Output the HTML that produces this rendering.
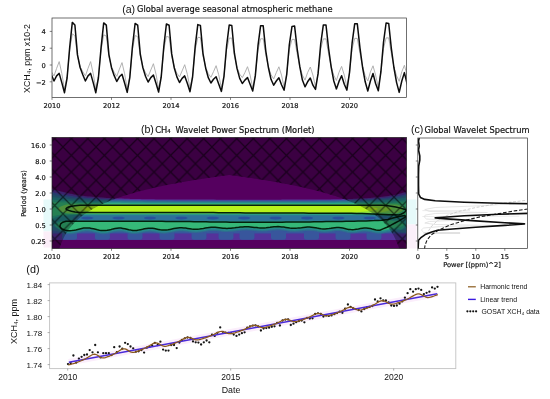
<!DOCTYPE html>
<html lang="en"><head><meta charset="utf-8"><title>Methane wavelet analysis</title>
<style>html,body{margin:0;padding:0;background:#fff;}svg{display:block;filter:blur(0.3px)}</style></head>
<body><svg width="550" height="399" viewBox="0 0 550 399">
<rect width="550" height="399" fill="#fff"/>
<clipPath id="ca"><rect x="52.0" y="18.0" width="354.5" height="79.6"/></clipPath>
<g clip-path="url(#ca)"><path d="M48.8,66.7 51.4,71.7 54.0,75.9 56.6,68.4 59.2,61.6 61.8,73.4 64.5,89.4 67.1,76.8 69.7,49.9 72.3,33.9 74.9,35.6 77.5,56.6 80.1,66.7 82.8,71.7 85.4,75.9 88.0,68.4 90.6,61.6 93.2,73.4 95.8,89.4 98.4,76.8 101.1,49.9 103.7,34.8 106.3,36.1 108.9,56.4 111.5,66.8 114.1,72.2 116.8,76.3 119.4,69.2 122.0,62.6 124.6,73.7 127.2,89.0 129.8,76.4 132.4,49.9 135.1,35.6 137.7,36.6 140.3,56.3 142.9,67.0 145.5,72.7 148.1,76.6 150.8,70.0 153.4,63.7 156.0,74.1 158.6,88.7 161.2,76.1 163.8,49.9 166.4,36.4 169.1,37.1 171.7,56.1 174.3,67.2 176.9,73.2 179.5,76.9 182.1,70.9 184.7,64.7 187.4,74.4 190.0,88.4 192.6,75.8 195.2,49.9 197.8,37.3 200.4,37.6 203.0,55.9 205.7,67.4 208.3,73.7 210.9,77.3 213.5,71.7 216.1,65.7 218.7,74.7 221.4,88.0 224.0,75.4 226.6,49.9 229.2,38.1 231.8,38.1 234.4,55.8 237.0,67.5 239.7,74.2 242.3,77.6 244.9,72.6 247.5,66.7 250.1,75.1 252.7,87.7 255.3,75.1 258.0,49.9 260.6,38.8 263.2,38.8 265.8,54.9 268.4,67.1 271.0,74.7 273.7,78.9 276.3,72.6 278.9,66.8 281.5,75.1 284.1,87.3 286.7,74.2 289.3,49.5 292.0,39.4 294.6,39.4 297.2,54.1 299.8,66.7 302.4,75.1 305.0,80.1 307.6,72.6 310.3,67.0 312.9,75.1 315.5,86.8 318.1,73.4 320.7,49.0 323.3,38.9 326.0,38.9 328.6,53.8 331.2,66.7 333.8,75.4 336.4,80.5 339.0,72.3 341.6,66.4 344.3,75.1 346.9,87.1 349.5,73.1 352.1,48.8 354.7,38.4 357.3,38.4 360.0,53.5 362.6,66.7 365.2,75.6 367.8,80.9 370.4,72.0 373.0,65.8 375.6,75.1 378.3,87.4 380.9,72.8 383.5,48.5 386.1,37.9 388.7,37.9 391.3,53.2 393.9,66.7 396.6,75.9 399.2,81.3 401.8,71.7 404.4,65.3 407.0,75.1 409.6,87.7" fill="none" stroke="#a8a8a8" stroke-width="0.9" stroke-linejoin="round"/>
<path d="M48.8,67.5 51.4,74.7 54.0,81.0 56.6,75.9 59.2,73.4 61.8,82.6 64.5,92.7 67.1,78.0 69.7,47.4 72.3,22.4 74.9,25.0 77.5,54.9 80.1,67.5 82.8,74.7 85.4,81.0 88.0,75.9 90.6,73.4 93.2,82.6 95.8,92.7 98.4,78.0 101.1,47.4 103.7,22.9 106.3,25.1 108.9,54.6 111.5,67.7 114.1,75.4 116.8,81.5 119.4,76.8 122.0,74.2 124.6,83.0 127.2,92.4 129.8,77.6 132.4,47.0 135.1,23.5 137.7,25.2 140.3,54.2 142.9,67.9 145.5,76.2 148.1,82.0 150.8,77.6 153.4,75.1 156.0,83.3 158.6,92.0 161.2,77.2 163.8,46.7 166.4,24.0 169.1,25.3 171.7,53.9 174.3,68.0 176.9,76.9 179.5,82.5 182.1,78.4 184.7,75.9 187.4,83.6 190.0,91.7 192.6,76.8 195.2,46.4 197.8,24.6 200.4,25.4 203.0,53.6 205.7,68.2 208.3,77.7 210.9,83.0 213.5,79.3 216.1,76.8 218.7,84.0 221.4,91.4 224.0,76.3 226.6,46.0 229.2,25.1 231.8,25.5 234.4,53.2 237.0,68.4 239.7,78.4 242.3,83.5 244.9,80.1 247.5,77.6 250.1,84.3 252.7,91.0 255.3,75.9 258.0,45.7 260.6,25.7 263.2,25.8 265.8,51.1 268.4,67.5 271.0,79.3 273.7,85.2 276.3,81.0 278.9,77.8 281.5,84.7 284.1,90.2 286.7,74.7 289.3,44.8 292.0,26.4 294.6,26.1 297.2,49.0 299.8,66.7 302.4,80.1 305.0,86.8 307.6,81.8 310.3,78.0 312.9,85.2 315.5,89.4 318.1,73.4 320.7,44.0 323.3,25.1 326.0,25.0 328.6,48.6 331.2,67.1 333.8,81.0 336.4,88.9 339.0,81.4 341.6,75.7 344.3,84.3 346.9,90.1 349.5,72.6 352.1,43.2 354.7,23.8 357.3,23.8 360.0,48.2 362.6,67.5 365.2,81.8 367.8,91.0 370.4,81.0 373.0,73.4 375.6,83.5 378.3,90.8 380.9,71.7 383.5,42.3 386.1,23.0 388.7,23.4 391.3,48.2 393.9,67.5 396.6,82.6 399.2,92.4 401.8,81.0 404.4,72.6 407.0,83.5 409.6,91.0" fill="none" stroke="#0c0c0c" stroke-width="1.5" stroke-linejoin="round"/></g>
<rect x="52.0" y="18.0" width="354.5" height="79.6" fill="none" stroke="#333" stroke-width="0.7"/>
<line x1="52.00" y1="97.6" x2="52.00" y2="99.89999999999999" stroke="#333" stroke-width="0.6"/>
<text x="52.00" y="108.3" text-anchor="middle" style="font-family:&quot;DejaVu Sans&quot;,&quot;Liberation Sans&quot;,sans-serif;font-size:6.7px" fill="#111" stroke="#111" stroke-width="0.18">2010</text>
<line x1="111.50" y1="97.6" x2="111.50" y2="99.89999999999999" stroke="#333" stroke-width="0.6"/>
<text x="111.50" y="108.3" text-anchor="middle" style="font-family:&quot;DejaVu Sans&quot;,&quot;Liberation Sans&quot;,sans-serif;font-size:6.7px" fill="#111" stroke="#111" stroke-width="0.18">2012</text>
<line x1="171.00" y1="97.6" x2="171.00" y2="99.89999999999999" stroke="#333" stroke-width="0.6"/>
<text x="171.00" y="108.3" text-anchor="middle" style="font-family:&quot;DejaVu Sans&quot;,&quot;Liberation Sans&quot;,sans-serif;font-size:6.7px" fill="#111" stroke="#111" stroke-width="0.18">2014</text>
<line x1="230.50" y1="97.6" x2="230.50" y2="99.89999999999999" stroke="#333" stroke-width="0.6"/>
<text x="230.50" y="108.3" text-anchor="middle" style="font-family:&quot;DejaVu Sans&quot;,&quot;Liberation Sans&quot;,sans-serif;font-size:6.7px" fill="#111" stroke="#111" stroke-width="0.18">2016</text>
<line x1="290.00" y1="97.6" x2="290.00" y2="99.89999999999999" stroke="#333" stroke-width="0.6"/>
<text x="290.00" y="108.3" text-anchor="middle" style="font-family:&quot;DejaVu Sans&quot;,&quot;Liberation Sans&quot;,sans-serif;font-size:6.7px" fill="#111" stroke="#111" stroke-width="0.18">2018</text>
<line x1="349.50" y1="97.6" x2="349.50" y2="99.89999999999999" stroke="#333" stroke-width="0.6"/>
<text x="349.50" y="108.3" text-anchor="middle" style="font-family:&quot;DejaVu Sans&quot;,&quot;Liberation Sans&quot;,sans-serif;font-size:6.7px" fill="#111" stroke="#111" stroke-width="0.18">2020</text>
<line x1="49.7" y1="31.40" x2="52.0" y2="31.40" stroke="#333" stroke-width="0.6"/>
<text x="45.8" y="34.20" text-anchor="end" style="font-family:&quot;DejaVu Sans&quot;,&quot;Liberation Sans&quot;,sans-serif;font-size:6.7px" fill="#111" stroke="#111" stroke-width="0.18">4</text>
<line x1="49.7" y1="48.20" x2="52.0" y2="48.20" stroke="#333" stroke-width="0.6"/>
<text x="45.8" y="51.00" text-anchor="end" style="font-family:&quot;DejaVu Sans&quot;,&quot;Liberation Sans&quot;,sans-serif;font-size:6.7px" fill="#111" stroke="#111" stroke-width="0.18">2</text>
<line x1="49.7" y1="65.00" x2="52.0" y2="65.00" stroke="#333" stroke-width="0.6"/>
<text x="45.8" y="67.80" text-anchor="end" style="font-family:&quot;DejaVu Sans&quot;,&quot;Liberation Sans&quot;,sans-serif;font-size:6.7px" fill="#111" stroke="#111" stroke-width="0.18">0</text>
<line x1="49.7" y1="81.80" x2="52.0" y2="81.80" stroke="#333" stroke-width="0.6"/>
<text x="45.8" y="84.60" text-anchor="end" style="font-family:&quot;DejaVu Sans&quot;,&quot;Liberation Sans&quot;,sans-serif;font-size:6.7px" fill="#111" stroke="#111" stroke-width="0.18">−2</text>
<text transform="translate(30.2,58.5) rotate(-90)" text-anchor="middle" style="font-family:&quot;Liberation Sans&quot;,sans-serif;font-size:8.85px" fill="#111">XCH₄, ppm x10-2</text>
<text x="122.2" y="13.2" style="font-family:&quot;Liberation Sans&quot;,sans-serif;font-size:10.6px" fill="#111">(a)</text>
<text x="137" y="12.2" style="font-family:&quot;DejaVu Sans&quot;,&quot;Liberation Sans&quot;,sans-serif;font-size:8.27px" fill="#111" stroke="#111" stroke-width="0.18">Global average seasonal atmospheric methane</text>
<rect x="43.5" y="199.5" width="9" height="32" fill="#e6fafa"/><rect x="43.5" y="231.5" width="9" height="16" fill="#fbeef8"/><rect x="406" y="199.5" width="10.5" height="25" fill="#e6fafa"/><rect x="406" y="224.5" width="10.5" height="24" fill="#fbf0fa"/>
<clipPath id="cb"><rect x="52.0" y="137.5" width="354.5" height="111.0"/></clipPath>
<filter id="bl" x="-5%" y="-5%" width="110%" height="110%"><feGaussianBlur stdDeviation="0.55"/></filter>
<g clip-path="url(#cb)"><g filter="url(#bl)">
<rect x="49.0" y="134.5" width="360.5" height="117.0" fill="#55065f"/>
<path d="M50.0,187.9 52.0,188.7 54.0,189.4 56.0,190.1 58.0,190.7 60.0,191.3 62.0,191.8 64.0,192.3 66.0,192.8 68.0,193.3 70.0,193.7 72.0,194.1 74.0,194.4 76.0,194.8 78.0,195.1 80.0,195.4 82.0,195.7 84.0,195.9 86.1,196.2 88.1,196.4 90.1,196.6 92.1,196.8 94.1,197.0 96.1,197.2 98.1,197.3 100.1,197.5 102.1,197.6 104.1,197.8 106.1,197.9 108.1,198.0 110.1,198.1 112.1,198.2 114.1,198.3 116.1,198.4 118.1,198.5 120.1,198.6 122.1,198.6 124.1,198.7 126.1,198.8 128.1,198.8 130.1,198.9 132.1,198.9 134.1,199.0 136.1,199.0 138.1,199.1 140.1,199.1 142.1,199.2 144.1,199.2 146.1,199.2 148.1,199.3 150.1,199.3 152.1,199.3 154.1,199.3 156.1,199.4 158.2,199.4 160.2,199.4 162.2,199.4 164.2,199.4 166.2,199.5 168.2,199.5 170.2,199.5 172.2,199.5 174.2,199.5 176.2,199.5 178.2,199.5 180.2,199.5 182.2,199.6 184.2,199.6 186.2,199.6 188.2,199.6 190.2,199.6 192.2,199.6 194.2,199.6 196.2,199.6 198.2,199.6 200.2,199.6 202.2,199.6 204.2,199.6 206.2,199.6 208.2,199.6 210.2,199.6 212.2,199.6 214.2,199.6 216.2,199.7 218.2,199.7 220.2,199.7 222.2,199.7 224.2,199.7 226.2,199.7 228.2,199.7 230.3,199.7 232.3,199.7 234.3,199.7 236.3,199.7 238.3,199.7 240.3,199.7 242.3,199.7 244.3,199.7 246.3,199.7 248.3,199.7 250.3,199.7 252.3,199.7 254.3,199.7 256.3,199.7 258.3,199.7 260.3,199.7 262.3,199.7 264.3,199.7 266.3,199.7 268.3,199.7 270.3,199.7 272.3,199.7 274.3,199.7 276.3,199.7 278.3,199.7 280.3,199.7 282.3,199.6 284.3,199.6 286.3,199.6 288.3,199.6 290.3,199.6 292.3,199.6 294.3,199.6 296.3,199.6 298.3,199.6 300.3,199.6 302.4,199.6 304.4,199.6 306.4,199.6 308.4,199.6 310.4,199.6 312.4,199.5 314.4,199.5 316.4,199.5 318.4,199.5 320.4,199.5 322.4,199.5 324.4,199.4 326.4,199.4 328.4,199.4 330.4,199.4 332.4,199.3 334.4,199.3 336.4,199.3 338.4,199.2 340.4,199.2 342.4,199.1 344.4,199.1 346.4,199.0 348.4,199.0 350.4,198.9 352.4,198.9 354.4,198.8 356.4,198.7 358.4,198.6 360.4,198.5 362.4,198.4 364.4,198.3 366.4,198.2 368.4,198.1 370.4,197.9 372.4,197.8 374.5,197.6 376.5,197.4 378.5,197.2 380.5,197.0 382.5,196.8 384.5,196.5 386.5,196.2 388.5,195.9 390.5,195.6 392.5,195.2 394.5,194.9 396.5,194.4 398.5,194.0 400.5,193.5 402.5,192.9 404.5,192.3 406.5,191.7 408.5,191.0 408.5,240.0 406.5,240.0 404.5,240.0 402.5,240.0 400.5,240.0 398.5,240.0 396.5,240.0 394.5,240.0 392.5,240.0 390.5,240.0 388.5,240.0 386.5,240.0 384.5,240.0 382.5,240.0 380.5,240.0 378.5,240.0 376.5,240.0 374.5,240.0 372.4,240.0 370.4,240.0 368.4,240.0 366.4,240.0 364.4,240.0 362.4,240.0 360.4,240.0 358.4,240.0 356.4,240.0 354.4,240.0 352.4,240.0 350.4,240.0 348.4,240.0 346.4,240.0 344.4,240.0 342.4,240.0 340.4,240.0 338.4,240.0 336.4,240.0 334.4,240.0 332.4,240.0 330.4,240.0 328.4,240.0 326.4,240.0 324.4,240.0 322.4,240.0 320.4,240.0 318.4,240.0 316.4,240.0 314.4,240.0 312.4,240.0 310.4,240.0 308.4,240.0 306.4,240.0 304.4,240.0 302.4,240.0 300.3,240.0 298.3,240.0 296.3,240.0 294.3,240.0 292.3,240.0 290.3,240.0 288.3,240.0 286.3,240.0 284.3,240.0 282.3,240.0 280.3,240.0 278.3,240.0 276.3,240.0 274.3,240.0 272.3,240.0 270.3,240.0 268.3,240.0 266.3,240.0 264.3,240.0 262.3,240.0 260.3,240.0 258.3,240.0 256.3,240.0 254.3,240.0 252.3,240.0 250.3,240.0 248.3,240.0 246.3,240.0 244.3,240.0 242.3,240.0 240.3,240.0 238.3,240.0 236.3,240.0 234.3,240.0 232.3,240.0 230.3,240.0 228.2,240.0 226.2,240.0 224.2,240.0 222.2,240.0 220.2,240.0 218.2,240.0 216.2,240.0 214.2,240.0 212.2,240.0 210.2,240.0 208.2,240.0 206.2,240.0 204.2,240.0 202.2,240.0 200.2,240.0 198.2,240.0 196.2,240.0 194.2,240.0 192.2,240.0 190.2,240.0 188.2,240.0 186.2,240.0 184.2,240.0 182.2,240.0 180.2,240.0 178.2,240.0 176.2,240.0 174.2,240.0 172.2,240.0 170.2,240.0 168.2,240.0 166.2,240.0 164.2,240.0 162.2,240.0 160.2,240.0 158.2,240.0 156.1,240.0 154.1,240.0 152.1,240.0 150.1,240.0 148.1,240.0 146.1,240.0 144.1,240.0 142.1,240.0 140.1,240.0 138.1,240.0 136.1,240.0 134.1,240.0 132.1,240.0 130.1,240.0 128.1,240.0 126.1,240.0 124.1,240.0 122.1,240.0 120.1,240.0 118.1,240.0 116.1,240.0 114.1,240.0 112.1,240.0 110.1,240.0 108.1,240.0 106.1,240.0 104.1,240.0 102.1,240.0 100.1,240.0 98.1,240.0 96.1,240.0 94.1,240.0 92.1,240.0 90.1,240.0 88.1,240.0 86.1,240.0 84.0,240.0 82.0,240.0 80.0,240.0 78.0,240.0 76.0,240.0 74.0,240.0 72.0,240.0 70.0,240.0 68.0,240.0 66.0,240.0 64.0,240.0 62.0,240.0 60.0,240.0 58.0,240.0 56.0,240.0 54.0,240.0 52.0,240.0 50.0,240.0Z" fill="#55309a"/>
<path d="M50.0,191.3 52.0,191.9 54.0,192.5 56.0,193.0 58.0,193.5 60.0,193.9 62.0,194.3 64.0,194.7 66.0,195.1 68.0,195.5 70.0,195.8 72.0,196.1 74.0,196.4 76.0,196.6 78.0,196.9 80.0,197.1 82.0,197.3 84.0,197.5 86.1,197.7 88.1,197.9 90.1,198.1 92.1,198.2 94.1,198.4 96.1,198.5 98.1,198.6 100.1,198.8 102.1,198.9 104.1,199.0 106.1,199.1 108.1,199.2 110.1,199.3 112.1,199.3 114.1,199.4 116.1,199.5 118.1,199.6 120.1,199.6 122.1,199.7 124.1,199.7 126.1,199.8 128.1,199.8 130.1,199.9 132.1,199.9 134.1,199.9 136.1,200.0 138.1,200.0 140.1,200.0 142.1,200.1 144.1,200.1 146.1,200.1 148.1,200.2 150.1,200.2 152.1,200.2 154.1,200.2 156.1,200.2 158.2,200.2 160.2,200.3 162.2,200.3 164.2,200.3 166.2,200.3 168.2,200.3 170.2,200.3 172.2,200.3 174.2,200.4 176.2,200.4 178.2,200.4 180.2,200.4 182.2,200.4 184.2,200.4 186.2,200.4 188.2,200.4 190.2,200.4 192.2,200.4 194.2,200.4 196.2,200.4 198.2,200.4 200.2,200.4 202.2,200.4 204.2,200.4 206.2,200.4 208.2,200.5 210.2,200.5 212.2,200.5 214.2,200.5 216.2,200.5 218.2,200.5 220.2,200.5 222.2,200.5 224.2,200.5 226.2,200.5 228.2,200.5 230.3,200.5 232.3,200.5 234.3,200.5 236.3,200.5 238.3,200.5 240.3,200.5 242.3,200.5 244.3,200.5 246.3,200.5 248.3,200.5 250.3,200.5 252.3,200.5 254.3,200.5 256.3,200.5 258.3,200.5 260.3,200.5 262.3,200.5 264.3,200.5 266.3,200.5 268.3,200.5 270.3,200.5 272.3,200.5 274.3,200.5 276.3,200.5 278.3,200.5 280.3,200.5 282.3,200.5 284.3,200.5 286.3,200.5 288.3,200.4 290.3,200.4 292.3,200.4 294.3,200.4 296.3,200.4 298.3,200.4 300.3,200.4 302.4,200.4 304.4,200.4 306.4,200.4 308.4,200.4 310.4,200.4 312.4,200.4 314.4,200.4 316.4,200.3 318.4,200.3 320.4,200.3 322.4,200.3 324.4,200.3 326.4,200.3 328.4,200.2 330.4,200.2 332.4,200.2 334.4,200.2 336.4,200.1 338.4,200.1 340.4,200.1 342.4,200.0 344.4,200.0 346.4,200.0 348.4,199.9 350.4,199.9 352.4,199.8 354.4,199.7 356.4,199.7 358.4,199.6 360.4,199.5 362.4,199.4 364.4,199.4 366.4,199.3 368.4,199.1 370.4,199.0 372.4,198.9 374.5,198.8 376.5,198.6 378.5,198.4 380.5,198.3 382.5,198.1 384.5,197.9 386.5,197.6 388.5,197.4 390.5,197.1 392.5,196.8 394.5,196.5 396.5,196.2 398.5,195.8 400.5,195.4 402.5,194.9 404.5,194.4 406.5,193.9 408.5,193.3 408.5,233.4 406.5,233.4 404.5,233.4 402.5,233.4 400.5,233.4 398.5,233.4 396.5,233.4 394.5,233.4 392.5,233.4 390.5,233.4 388.5,233.4 386.5,233.4 384.5,233.4 382.5,233.4 380.5,233.4 378.5,233.4 376.5,233.4 374.5,233.4 372.4,233.4 370.4,233.4 368.4,233.4 366.4,233.4 364.4,233.4 362.4,233.4 360.4,233.4 358.4,233.4 356.4,233.4 354.4,233.4 352.4,233.4 350.4,233.4 348.4,233.4 346.4,233.4 344.4,233.4 342.4,233.4 340.4,233.4 338.4,233.4 336.4,233.4 334.4,233.4 332.4,233.4 330.4,233.4 328.4,233.4 326.4,233.4 324.4,233.4 322.4,233.4 320.4,233.4 318.4,233.4 316.4,233.4 314.4,233.4 312.4,233.4 310.4,233.4 308.4,233.4 306.4,233.4 304.4,233.4 302.4,233.4 300.3,233.4 298.3,233.4 296.3,233.4 294.3,233.4 292.3,233.4 290.3,233.4 288.3,233.4 286.3,233.4 284.3,233.4 282.3,233.4 280.3,233.4 278.3,233.4 276.3,233.4 274.3,233.4 272.3,233.4 270.3,233.4 268.3,233.4 266.3,233.4 264.3,233.4 262.3,233.4 260.3,233.4 258.3,233.4 256.3,233.4 254.3,233.4 252.3,233.4 250.3,233.4 248.3,233.4 246.3,233.4 244.3,233.4 242.3,233.4 240.3,233.4 238.3,233.4 236.3,233.4 234.3,233.4 232.3,233.4 230.3,233.4 228.2,233.4 226.2,233.4 224.2,233.4 222.2,233.4 220.2,233.4 218.2,233.4 216.2,233.4 214.2,233.4 212.2,233.4 210.2,233.4 208.2,233.4 206.2,233.4 204.2,233.4 202.2,233.4 200.2,233.4 198.2,233.4 196.2,233.4 194.2,233.4 192.2,233.4 190.2,233.4 188.2,233.4 186.2,233.4 184.2,233.4 182.2,233.4 180.2,233.4 178.2,233.4 176.2,233.4 174.2,233.4 172.2,233.4 170.2,233.4 168.2,233.4 166.2,233.4 164.2,233.4 162.2,233.4 160.2,233.4 158.2,233.4 156.1,233.4 154.1,233.4 152.1,233.4 150.1,233.4 148.1,233.4 146.1,233.4 144.1,233.4 142.1,233.4 140.1,233.4 138.1,233.4 136.1,233.4 134.1,233.4 132.1,233.4 130.1,233.4 128.1,233.4 126.1,233.4 124.1,233.4 122.1,233.4 120.1,233.4 118.1,233.4 116.1,233.4 114.1,233.4 112.1,233.4 110.1,233.4 108.1,233.4 106.1,233.4 104.1,233.4 102.1,233.4 100.1,233.4 98.1,233.4 96.1,233.4 94.1,233.4 92.1,233.4 90.1,233.4 88.1,233.4 86.1,233.4 84.0,233.4 82.0,233.4 80.0,233.4 78.0,233.4 76.0,233.4 74.0,233.4 72.0,233.4 70.0,233.4 68.0,233.4 66.0,233.4 64.0,233.4 62.0,233.4 60.0,233.4 58.0,233.4 56.0,233.4 54.0,233.4 52.0,233.4 50.0,233.4Z" fill="#37579c"/>
<rect x="62.1" y="231" width="15" height="8.7" rx="2.5" fill="#37579c"/>
<rect x="94.9" y="231" width="15" height="8.7" rx="2.5" fill="#37579c"/>
<rect x="127.5" y="231" width="15" height="8.7" rx="2.5" fill="#37579c"/>
<rect x="159.5" y="231" width="15" height="8.7" rx="2.5" fill="#37579c"/>
<rect x="191.5" y="231" width="15" height="8.7" rx="2.5" fill="#37579c"/>
<rect x="218.5" y="231" width="15" height="8.7" rx="2.5" fill="#37579c"/>
<rect x="239.5" y="231" width="15" height="8.7" rx="2.5" fill="#37579c"/>
<rect x="271.0" y="231" width="15" height="8.7" rx="2.5" fill="#37579c"/>
<rect x="304.0" y="231" width="15" height="8.7" rx="2.5" fill="#37579c"/>
<rect x="335.5" y="231" width="15" height="8.7" rx="2.5" fill="#37579c"/>
<rect x="366.5" y="231" width="15" height="8.7" rx="2.5" fill="#37579c"/>
<path d="M50.0,193.8 52.0,194.3 54.0,194.8 56.0,195.2 58.0,195.6 60.0,195.9 62.0,196.3 64.0,196.6 66.0,196.9 68.0,197.2 70.0,197.5 72.0,197.7 74.0,197.9 76.0,198.2 78.0,198.4 80.0,198.6 82.0,198.7 84.0,198.9 86.1,199.1 88.1,199.2 90.1,199.3 92.1,199.5 94.1,199.6 96.1,199.7 98.1,199.8 100.1,199.9 102.1,200.0 104.1,200.1 106.1,200.1 108.1,200.2 110.1,200.3 112.1,200.4 114.1,200.4 116.1,200.5 118.1,200.5 120.1,200.6 122.1,200.6 124.1,200.7 126.1,200.7 128.1,200.7 130.1,200.8 132.1,200.8 134.1,200.8 136.1,200.9 138.1,200.9 140.1,200.9 142.1,201.0 144.1,201.0 146.1,201.0 148.1,201.0 150.1,201.0 152.1,201.1 154.1,201.1 156.1,201.1 158.2,201.1 160.2,201.1 162.2,201.1 164.2,201.1 166.2,201.1 168.2,201.2 170.2,201.2 172.2,201.2 174.2,201.2 176.2,201.2 178.2,201.2 180.2,201.2 182.2,201.2 184.2,201.2 186.2,201.2 188.2,201.2 190.2,201.2 192.2,201.2 194.2,201.2 196.2,201.2 198.2,201.2 200.2,201.2 202.2,201.3 204.2,201.3 206.2,201.3 208.2,201.3 210.2,201.3 212.2,201.3 214.2,201.3 216.2,201.3 218.2,201.3 220.2,201.3 222.2,201.3 224.2,201.3 226.2,201.3 228.2,201.3 230.3,201.3 232.3,201.3 234.3,201.3 236.3,201.3 238.3,201.3 240.3,201.3 242.3,201.3 244.3,201.3 246.3,201.3 248.3,201.3 250.3,201.3 252.3,201.3 254.3,201.3 256.3,201.3 258.3,201.3 260.3,201.3 262.3,201.3 264.3,201.3 266.3,201.3 268.3,201.3 270.3,201.3 272.3,201.3 274.3,201.3 276.3,201.3 278.3,201.3 280.3,201.3 282.3,201.3 284.3,201.3 286.3,201.3 288.3,201.3 290.3,201.3 292.3,201.2 294.3,201.2 296.3,201.2 298.3,201.2 300.3,201.2 302.4,201.2 304.4,201.2 306.4,201.2 308.4,201.2 310.4,201.2 312.4,201.2 314.4,201.2 316.4,201.2 318.4,201.2 320.4,201.1 322.4,201.1 324.4,201.1 326.4,201.1 328.4,201.1 330.4,201.1 332.4,201.0 334.4,201.0 336.4,201.0 338.4,201.0 340.4,200.9 342.4,200.9 344.4,200.9 346.4,200.8 348.4,200.8 350.4,200.8 352.4,200.7 354.4,200.7 356.4,200.6 358.4,200.5 360.4,200.5 362.4,200.4 364.4,200.3 366.4,200.2 368.4,200.2 370.4,200.1 372.4,199.9 374.5,199.8 376.5,199.7 378.5,199.6 380.5,199.4 382.5,199.2 384.5,199.1 386.5,198.9 388.5,198.7 390.5,198.4 392.5,198.2 394.5,197.9 396.5,197.6 398.5,197.3 400.5,196.9 402.5,196.6 404.5,196.1 406.5,195.7 408.5,195.2 408.5,232.5 406.5,232.7 404.5,232.6 402.5,232.4 400.5,232.1 398.5,231.9 396.5,231.7 394.5,231.7 392.5,231.8 390.5,232.1 388.5,232.4 386.5,232.8 384.5,233.2 382.5,233.5 380.5,233.7 378.5,233.8 376.5,233.6 374.5,233.2 372.4,232.7 370.4,232.3 368.4,231.9 366.4,231.7 364.4,231.6 362.4,231.8 360.4,232.1 358.4,232.5 356.4,232.9 354.4,233.2 352.4,233.3 350.4,233.2 348.4,232.9 346.4,232.5 344.4,232.0 342.4,231.6 340.4,231.3 338.4,231.1 336.4,231.1 334.4,231.3 332.4,231.6 330.4,232.0 328.4,232.3 326.4,232.5 324.4,232.6 322.4,232.5 320.4,232.2 318.4,231.9 316.4,231.5 314.4,231.2 312.4,230.9 310.4,230.7 308.4,230.7 306.4,230.7 304.4,230.9 302.4,231.2 300.3,231.4 298.3,231.7 296.3,231.8 294.3,231.9 292.3,231.8 290.3,231.7 288.3,231.4 286.3,231.1 284.3,230.8 282.3,230.5 280.3,230.3 278.3,230.2 276.3,230.3 274.3,230.4 272.3,230.6 270.3,230.8 268.3,231.1 266.3,231.4 264.3,231.5 262.3,231.6 260.3,231.5 258.3,231.4 256.3,231.2 254.3,231.0 252.3,230.8 250.3,230.6 248.3,230.4 246.3,230.3 244.3,230.4 242.3,230.5 240.3,230.7 238.3,230.9 236.3,231.2 234.3,231.5 232.3,231.7 230.3,231.8 228.2,232.0 226.2,232.0 224.2,231.9 222.2,231.7 220.2,231.4 218.2,231.2 216.2,231.0 214.2,230.9 212.2,230.9 210.2,231.0 208.2,231.2 206.2,231.6 204.2,231.9 202.2,232.3 200.2,232.6 198.2,232.8 196.2,232.9 194.2,232.8 192.2,232.7 190.2,232.4 188.2,232.1 186.2,231.8 184.2,231.6 182.2,231.4 180.2,231.4 178.2,231.6 176.2,231.8 174.2,232.2 172.2,232.6 170.2,233.0 168.2,233.3 166.2,233.6 164.2,233.7 162.2,233.6 160.2,233.4 158.2,233.0 156.1,232.6 154.1,232.2 152.1,231.9 150.1,231.8 148.1,231.9 146.1,232.1 144.1,232.5 142.1,233.0 140.1,233.4 138.1,233.8 136.1,234.0 134.1,234.1 132.1,233.9 130.1,233.6 128.1,233.1 126.1,232.6 124.1,232.2 122.1,231.8 120.1,231.7 118.1,231.7 116.1,231.9 114.1,232.3 112.1,232.8 110.1,233.3 108.1,233.8 106.1,234.1 104.1,234.2 102.1,234.2 100.1,233.9 98.1,233.5 96.1,233.1 94.1,232.6 92.1,232.1 90.1,231.7 88.1,231.5 86.1,231.5 84.0,231.7 82.0,232.0 80.0,232.4 78.0,232.9 76.0,233.4 74.0,233.9 72.0,234.2 70.0,234.3 68.0,234.2 66.0,233.9 64.0,233.4 62.0,232.8 60.0,232.2 58.0,231.6 56.0,231.1 54.0,230.8 52.0,230.6 50.0,230.6Z" fill="#2f6c90"/>
<path d="M50.0,196.5 52.0,196.9 54.0,197.2 56.0,197.6 58.0,197.8 60.0,198.1 62.0,198.4 64.0,198.6 66.0,198.8 68.0,199.1 70.0,199.2 72.0,199.4 74.0,199.6 76.0,199.8 78.0,199.9 80.0,200.1 82.0,200.2 84.0,200.3 86.1,200.4 88.1,200.5 90.1,200.6 92.1,200.7 94.1,200.8 96.1,200.9 98.1,201.0 100.1,201.1 102.1,201.1 104.1,201.2 106.1,201.2 108.1,201.3 110.1,201.3 112.1,201.4 114.1,201.4 116.1,201.5 118.1,201.5 120.1,201.6 122.1,201.6 124.1,201.6 126.1,201.7 128.1,201.7 130.1,201.7 132.1,201.7 134.1,201.8 136.1,201.8 138.1,201.8 140.1,201.8 142.1,201.8 144.1,201.9 146.1,201.9 148.1,201.9 150.1,201.9 152.1,201.9 154.1,201.9 156.1,201.9 158.2,201.9 160.2,202.0 162.2,202.0 164.2,202.0 166.2,202.0 168.2,202.0 170.2,202.0 172.2,202.0 174.2,202.0 176.2,202.0 178.2,202.0 180.2,202.0 182.2,202.0 184.2,202.0 186.2,202.0 188.2,202.0 190.2,202.0 192.2,202.1 194.2,202.1 196.2,202.1 198.2,202.1 200.2,202.1 202.2,202.1 204.2,202.1 206.2,202.1 208.2,202.1 210.2,202.1 212.2,202.1 214.2,202.1 216.2,202.1 218.2,202.1 220.2,202.1 222.2,202.1 224.2,202.1 226.2,202.1 228.2,202.1 230.3,202.1 232.3,202.1 234.3,202.1 236.3,202.1 238.3,202.1 240.3,202.1 242.3,202.1 244.3,202.1 246.3,202.1 248.3,202.1 250.3,202.1 252.3,202.1 254.3,202.1 256.3,202.1 258.3,202.1 260.3,202.1 262.3,202.1 264.3,202.1 266.3,202.1 268.3,202.1 270.3,202.1 272.3,202.1 274.3,202.1 276.3,202.1 278.3,202.1 280.3,202.1 282.3,202.1 284.3,202.1 286.3,202.1 288.3,202.1 290.3,202.1 292.3,202.1 294.3,202.1 296.3,202.1 298.3,202.0 300.3,202.0 302.4,202.0 304.4,202.0 306.4,202.0 308.4,202.0 310.4,202.0 312.4,202.0 314.4,202.0 316.4,202.0 318.4,202.0 320.4,202.0 322.4,202.0 324.4,201.9 326.4,201.9 328.4,201.9 330.4,201.9 332.4,201.9 334.4,201.9 336.4,201.9 338.4,201.8 340.4,201.8 342.4,201.8 344.4,201.8 346.4,201.7 348.4,201.7 350.4,201.7 352.4,201.6 354.4,201.6 356.4,201.5 358.4,201.5 360.4,201.4 362.4,201.4 364.4,201.3 366.4,201.2 368.4,201.2 370.4,201.1 372.4,201.0 374.5,200.9 376.5,200.8 378.5,200.7 380.5,200.5 382.5,200.4 384.5,200.3 386.5,200.1 388.5,199.9 390.5,199.7 392.5,199.5 394.5,199.3 396.5,199.1 398.5,198.8 400.5,198.5 402.5,198.2 404.5,197.9 406.5,197.5 408.5,197.1 408.5,221.9 406.5,226.4 404.5,228.7 402.5,229.7 400.5,230.2 398.5,230.3 396.5,230.3 394.5,230.4 392.5,230.6 390.5,230.9 388.5,231.2 386.5,231.6 384.5,232.0 382.5,232.4 380.5,232.6 378.5,232.6 376.5,232.4 374.5,232.0 372.4,231.6 370.4,231.1 368.4,230.7 366.4,230.5 364.4,230.4 362.4,230.6 360.4,230.9 358.4,231.3 356.4,231.7 354.4,232.0 352.4,232.1 350.4,232.0 348.4,231.7 346.4,231.3 344.4,230.8 342.4,230.4 340.4,230.1 338.4,229.9 336.4,229.9 334.4,230.1 332.4,230.4 330.4,230.8 328.4,231.1 326.4,231.3 324.4,231.4 322.4,231.3 320.4,231.0 318.4,230.7 316.4,230.3 314.4,230.0 312.4,229.7 310.4,229.5 308.4,229.5 306.4,229.5 304.4,229.7 302.4,230.0 300.3,230.2 298.3,230.5 296.3,230.6 294.3,230.7 292.3,230.6 290.3,230.5 288.3,230.2 286.3,229.9 284.3,229.6 282.3,229.3 280.3,229.1 278.3,229.0 276.3,229.1 274.3,229.2 272.3,229.4 270.3,229.6 268.3,229.9 266.3,230.2 264.3,230.3 262.3,230.4 260.3,230.3 258.3,230.2 256.3,230.0 254.3,229.8 252.3,229.6 250.3,229.4 248.3,229.2 246.3,229.1 244.3,229.2 242.3,229.3 240.3,229.5 238.3,229.7 236.3,230.0 234.3,230.3 232.3,230.5 230.3,230.6 228.2,230.8 226.2,230.8 224.2,230.7 222.2,230.5 220.2,230.2 218.2,230.0 216.2,229.8 214.2,229.7 212.2,229.7 210.2,229.8 208.2,230.0 206.2,230.4 204.2,230.7 202.2,231.1 200.2,231.4 198.2,231.6 196.2,231.7 194.2,231.6 192.2,231.5 190.2,231.2 188.2,230.9 186.2,230.6 184.2,230.4 182.2,230.2 180.2,230.2 178.2,230.4 176.2,230.6 174.2,231.0 172.2,231.4 170.2,231.8 168.2,232.1 166.2,232.4 164.2,232.5 162.2,232.4 160.2,232.2 158.2,231.8 156.1,231.4 154.1,231.0 152.1,230.7 150.1,230.6 148.1,230.7 146.1,230.9 144.1,231.3 142.1,231.8 140.1,232.2 138.1,232.6 136.1,232.8 134.1,232.9 132.1,232.7 130.1,232.4 128.1,231.9 126.1,231.4 124.1,231.0 122.1,230.6 120.1,230.5 118.1,230.5 116.1,230.7 114.1,231.1 112.1,231.6 110.1,232.1 108.1,232.6 106.1,232.9 104.1,233.0 102.1,233.0 100.1,232.7 98.1,232.3 96.1,231.9 94.1,231.4 92.1,230.9 90.1,230.5 88.1,230.3 86.1,230.3 84.0,230.5 82.0,230.8 80.0,231.2 78.0,231.7 76.0,232.2 74.0,232.6 72.0,232.9 70.0,233.0 68.0,232.9 66.0,232.5 64.0,231.9 62.0,231.1 60.0,230.2 58.0,229.0 56.0,227.8 54.0,226.2 52.0,224.0 50.0,220.8Z" fill="#28868c"/>
<path d="M50.0,199.4 52.0,199.6 54.0,199.8 56.0,200.0 58.0,200.2 60.0,200.4 62.0,200.6 64.0,200.7 66.0,200.9 68.0,201.0 70.0,201.1 72.0,201.3 74.0,201.4 76.0,201.5 78.0,201.6 80.0,201.7 82.0,201.8 84.0,201.8 86.1,201.9 88.1,202.0 90.1,202.0 92.1,202.1 94.1,202.2 96.1,202.2 98.1,202.3 100.1,202.3 102.1,202.4 104.1,202.4 106.1,202.4 108.1,202.5 110.1,202.5 112.1,202.5 114.1,202.6 116.1,202.6 118.1,202.6 120.1,202.6 122.1,202.7 124.1,202.7 126.1,202.7 128.1,202.7 130.1,202.7 132.1,202.8 134.1,202.8 136.1,202.8 138.1,202.8 140.1,202.8 142.1,202.8 144.1,202.8 146.1,202.9 148.1,202.9 150.1,202.9 152.1,202.9 154.1,202.9 156.1,202.9 158.2,202.9 160.2,202.9 162.2,202.9 164.2,202.9 166.2,202.9 168.2,202.9 170.2,202.9 172.2,202.9 174.2,202.9 176.2,202.9 178.2,202.9 180.2,203.0 182.2,203.0 184.2,203.0 186.2,203.0 188.2,203.0 190.2,203.0 192.2,203.0 194.2,203.0 196.2,203.0 198.2,203.0 200.2,203.0 202.2,203.0 204.2,203.0 206.2,203.0 208.2,203.0 210.2,203.0 212.2,203.0 214.2,203.0 216.2,203.0 218.2,203.0 220.2,203.0 222.2,203.0 224.2,203.0 226.2,203.0 228.2,203.0 230.3,203.0 232.3,203.0 234.3,203.0 236.3,203.0 238.3,203.0 240.3,203.0 242.3,203.0 244.3,203.0 246.3,203.0 248.3,203.0 250.3,203.0 252.3,203.0 254.3,203.0 256.3,203.0 258.3,203.0 260.3,203.0 262.3,203.0 264.3,203.0 266.3,203.0 268.3,203.0 270.3,203.0 272.3,203.0 274.3,203.0 276.3,203.0 278.3,203.0 280.3,203.0 282.3,203.0 284.3,203.0 286.3,203.0 288.3,203.0 290.3,203.0 292.3,203.0 294.3,203.0 296.3,203.0 298.3,203.0 300.3,203.0 302.4,203.0 304.4,203.0 306.4,203.0 308.4,203.0 310.4,202.9 312.4,202.9 314.4,202.9 316.4,202.9 318.4,202.9 320.4,202.9 322.4,202.9 324.4,202.9 326.4,202.9 328.4,202.9 330.4,202.9 332.4,202.9 334.4,202.9 336.4,202.8 338.4,202.8 340.4,202.8 342.4,202.8 344.4,202.8 346.4,202.8 348.4,202.8 350.4,202.7 352.4,202.7 354.4,202.7 356.4,202.7 358.4,202.6 360.4,202.6 362.4,202.6 364.4,202.5 366.4,202.5 368.4,202.4 370.4,202.4 372.4,202.3 374.5,202.3 376.5,202.2 378.5,202.1 380.5,202.1 382.5,202.0 384.5,201.9 386.5,201.8 388.5,201.7 390.5,201.6 392.5,201.4 394.5,201.3 396.5,201.2 398.5,201.0 400.5,200.8 402.5,200.6 404.5,200.4 406.5,200.2 408.5,200.0 408.5,217.9 406.5,217.2 404.5,216.6 402.5,216.2 400.5,215.9 398.5,215.6 396.5,215.4 394.5,215.3 392.5,215.1 390.5,215.0 388.5,215.0 386.5,214.9 384.5,214.9 382.5,214.8 380.5,214.8 378.5,214.8 376.5,214.8 374.5,214.7 372.4,214.7 370.4,214.7 368.4,214.7 366.4,214.7 364.4,214.7 362.4,214.7 360.4,214.7 358.4,214.7 356.4,214.7 354.4,214.7 352.4,214.7 350.4,214.7 348.4,214.7 346.4,214.7 344.4,214.7 342.4,214.7 340.4,214.7 338.4,214.7 336.4,214.7 334.4,214.7 332.4,214.7 330.4,214.7 328.4,214.7 326.4,214.7 324.4,214.7 322.4,214.7 320.4,214.7 318.4,214.7 316.4,214.7 314.4,214.7 312.4,214.7 310.4,214.7 308.4,214.7 306.4,214.7 304.4,214.7 302.4,214.7 300.3,214.7 298.3,214.7 296.3,214.7 294.3,214.7 292.3,214.7 290.3,214.7 288.3,214.7 286.3,214.7 284.3,214.7 282.3,214.7 280.3,214.7 278.3,214.7 276.3,214.7 274.3,214.7 272.3,214.7 270.3,214.7 268.3,214.7 266.3,214.7 264.3,214.7 262.3,214.7 260.3,214.7 258.3,214.7 256.3,214.7 254.3,214.7 252.3,214.7 250.3,214.7 248.3,214.7 246.3,214.7 244.3,214.7 242.3,214.7 240.3,214.7 238.3,214.7 236.3,214.7 234.3,214.7 232.3,214.7 230.3,214.7 228.2,214.7 226.2,214.7 224.2,214.7 222.2,214.7 220.2,214.7 218.2,214.7 216.2,214.7 214.2,214.7 212.2,214.7 210.2,214.7 208.2,214.7 206.2,214.7 204.2,214.7 202.2,214.7 200.2,214.7 198.2,214.7 196.2,214.7 194.2,214.7 192.2,214.7 190.2,214.7 188.2,214.7 186.2,214.7 184.2,214.7 182.2,214.7 180.2,214.7 178.2,214.7 176.2,214.7 174.2,214.7 172.2,214.7 170.2,214.7 168.2,214.7 166.2,214.7 164.2,214.7 162.2,214.7 160.2,214.7 158.2,214.7 156.1,214.7 154.1,214.7 152.1,214.7 150.1,214.7 148.1,214.7 146.1,214.7 144.1,214.7 142.1,214.7 140.1,214.7 138.1,214.7 136.1,214.7 134.1,214.7 132.1,214.7 130.1,214.7 128.1,214.7 126.1,214.7 124.1,214.7 122.1,214.7 120.1,214.7 118.1,214.7 116.1,214.7 114.1,214.7 112.1,214.7 110.1,214.7 108.1,214.7 106.1,214.7 104.1,214.7 102.1,214.7 100.1,214.7 98.1,214.7 96.1,214.7 94.1,214.7 92.1,214.7 90.1,214.8 88.1,214.8 86.1,214.8 84.0,214.8 82.0,214.8 80.0,214.9 78.0,214.9 76.0,215.0 74.0,215.0 72.0,215.1 70.0,215.2 68.0,215.4 66.0,215.5 64.0,215.8 62.0,216.0 60.0,216.3 58.0,216.8 56.0,217.3 54.0,217.9 52.0,218.7 50.0,219.7Z" fill="#2aa184"/>
<path d="M50.0,201.7 52.0,201.8 54.0,201.9 56.0,202.1 58.0,202.2 60.0,202.3 62.0,202.4 64.0,202.5 66.0,202.5 68.0,202.6 70.0,202.7 72.0,202.8 74.0,202.8 76.0,202.9 78.0,203.0 80.0,203.0 82.0,203.1 84.0,203.1 86.1,203.2 88.1,203.2 90.1,203.2 92.1,203.3 94.1,203.3 96.1,203.3 98.1,203.4 100.1,203.4 102.1,203.4 104.1,203.4 106.1,203.5 108.1,203.5 110.1,203.5 112.1,203.5 114.1,203.5 116.1,203.6 118.1,203.6 120.1,203.6 122.1,203.6 124.1,203.6 126.1,203.6 128.1,203.6 130.1,203.7 132.1,203.7 134.1,203.7 136.1,203.7 138.1,203.7 140.1,203.7 142.1,203.7 144.1,203.7 146.1,203.7 148.1,203.7 150.1,203.7 152.1,203.7 154.1,203.7 156.1,203.7 158.2,203.7 160.2,203.7 162.2,203.7 164.2,203.8 166.2,203.8 168.2,203.8 170.2,203.8 172.2,203.8 174.2,203.8 176.2,203.8 178.2,203.8 180.2,203.8 182.2,203.8 184.2,203.8 186.2,203.8 188.2,203.8 190.2,203.8 192.2,203.8 194.2,203.8 196.2,203.8 198.2,203.8 200.2,203.8 202.2,203.8 204.2,203.8 206.2,203.8 208.2,203.8 210.2,203.8 212.2,203.8 214.2,203.8 216.2,203.8 218.2,203.8 220.2,203.8 222.2,203.8 224.2,203.8 226.2,203.8 228.2,203.8 230.3,203.8 232.3,203.8 234.3,203.8 236.3,203.8 238.3,203.8 240.3,203.8 242.3,203.8 244.3,203.8 246.3,203.8 248.3,203.8 250.3,203.8 252.3,203.8 254.3,203.8 256.3,203.8 258.3,203.8 260.3,203.8 262.3,203.8 264.3,203.8 266.3,203.8 268.3,203.8 270.3,203.8 272.3,203.8 274.3,203.8 276.3,203.8 278.3,203.8 280.3,203.8 282.3,203.8 284.3,203.8 286.3,203.8 288.3,203.8 290.3,203.8 292.3,203.8 294.3,203.8 296.3,203.8 298.3,203.8 300.3,203.8 302.4,203.8 304.4,203.8 306.4,203.8 308.4,203.8 310.4,203.8 312.4,203.8 314.4,203.8 316.4,203.8 318.4,203.8 320.4,203.8 322.4,203.8 324.4,203.7 326.4,203.7 328.4,203.7 330.4,203.7 332.4,203.7 334.4,203.7 336.4,203.7 338.4,203.7 340.4,203.7 342.4,203.7 344.4,203.7 346.4,203.7 348.4,203.7 350.4,203.6 352.4,203.6 354.4,203.6 356.4,203.6 358.4,203.6 360.4,203.6 362.4,203.5 364.4,203.5 366.4,203.5 368.4,203.5 370.4,203.4 372.4,203.4 374.5,203.4 376.5,203.3 378.5,203.3 380.5,203.3 382.5,203.2 384.5,203.2 386.5,203.1 388.5,203.0 390.5,203.0 392.5,202.9 394.5,202.8 396.5,202.7 398.5,202.7 400.5,202.6 402.5,202.4 404.5,202.3 406.5,202.2 408.5,202.1 408.5,216.2 406.5,215.7 404.5,215.3 402.5,215.0 400.5,214.7 398.5,214.6 396.5,214.4 394.5,214.3 392.5,214.2 390.5,214.1 388.5,214.1 386.5,214.0 384.5,214.0 382.5,214.0 380.5,214.0 378.5,214.0 376.5,213.9 374.5,213.9 372.4,213.9 370.4,213.9 368.4,213.9 366.4,213.9 364.4,213.9 362.4,213.9 360.4,213.9 358.4,213.9 356.4,213.9 354.4,213.9 352.4,213.9 350.4,213.9 348.4,213.9 346.4,213.9 344.4,213.9 342.4,213.9 340.4,213.9 338.4,213.9 336.4,213.9 334.4,213.9 332.4,213.9 330.4,213.9 328.4,213.9 326.4,213.9 324.4,213.9 322.4,213.9 320.4,213.9 318.4,213.9 316.4,213.9 314.4,213.9 312.4,213.9 310.4,213.9 308.4,213.9 306.4,213.9 304.4,213.9 302.4,213.9 300.3,213.9 298.3,213.9 296.3,213.9 294.3,213.9 292.3,213.9 290.3,213.9 288.3,213.9 286.3,213.9 284.3,213.9 282.3,213.9 280.3,213.9 278.3,213.9 276.3,213.9 274.3,213.9 272.3,213.9 270.3,213.9 268.3,213.9 266.3,213.9 264.3,213.9 262.3,213.9 260.3,213.9 258.3,213.9 256.3,213.9 254.3,213.9 252.3,213.9 250.3,213.9 248.3,213.9 246.3,213.9 244.3,213.9 242.3,213.9 240.3,213.9 238.3,213.9 236.3,213.9 234.3,213.9 232.3,213.9 230.3,213.9 228.2,213.9 226.2,213.9 224.2,213.9 222.2,213.9 220.2,213.9 218.2,213.9 216.2,213.9 214.2,213.9 212.2,213.9 210.2,213.9 208.2,213.9 206.2,213.9 204.2,213.9 202.2,213.9 200.2,213.9 198.2,213.9 196.2,213.9 194.2,213.9 192.2,213.9 190.2,213.9 188.2,213.9 186.2,213.9 184.2,213.9 182.2,213.9 180.2,213.9 178.2,213.9 176.2,213.9 174.2,213.9 172.2,213.9 170.2,213.9 168.2,213.9 166.2,213.9 164.2,213.9 162.2,213.9 160.2,213.9 158.2,213.9 156.1,213.9 154.1,213.9 152.1,213.9 150.1,213.9 148.1,213.9 146.1,213.9 144.1,213.9 142.1,213.9 140.1,213.9 138.1,213.9 136.1,213.9 134.1,213.9 132.1,213.9 130.1,213.9 128.1,213.9 126.1,213.9 124.1,213.9 122.1,213.9 120.1,213.9 118.1,213.9 116.1,213.9 114.1,213.9 112.1,213.9 110.1,213.9 108.1,213.9 106.1,213.9 104.1,213.9 102.1,213.9 100.1,213.9 98.1,213.9 96.1,213.9 94.1,213.9 92.1,213.9 90.1,213.9 88.1,213.9 86.1,214.0 84.0,214.0 82.0,214.0 80.0,214.0 78.0,214.0 76.0,214.1 74.0,214.1 72.0,214.2 70.0,214.2 68.0,214.3 66.0,214.4 64.0,214.5 62.0,214.7 60.0,214.9 58.0,215.1 56.0,215.4 54.0,215.8 52.0,216.3 50.0,216.9Z" fill="#36b878"/>
<path d="M58.0,208.9 59.7,207.0 61.5,206.2 63.2,205.6 65.0,205.0 66.7,204.6 68.4,204.5 70.2,204.5 71.9,204.5 73.6,204.5 75.4,204.5 77.1,204.5 78.9,204.5 80.6,204.5 82.3,204.5 84.1,204.5 85.8,204.5 87.6,204.5 89.3,204.5 91.0,204.5 92.8,204.5 94.5,204.5 96.3,204.5 98.0,204.5 99.7,204.5 101.5,204.5 103.2,204.5 104.9,204.5 106.7,204.5 108.4,204.5 110.2,204.5 111.9,204.5 113.6,204.5 115.4,204.5 117.1,204.5 118.9,204.5 120.6,204.5 122.3,204.5 124.1,204.5 125.8,204.5 127.5,204.5 129.3,204.5 131.0,204.5 132.8,204.5 134.5,204.5 136.2,204.5 138.0,204.5 139.7,204.5 141.5,204.5 143.2,204.5 144.9,204.5 146.7,204.5 148.4,204.5 150.2,204.5 151.9,204.5 153.6,204.5 155.4,204.5 157.1,204.5 158.8,204.5 160.6,204.5 162.3,204.5 164.1,204.5 165.8,204.5 167.5,204.5 169.3,204.5 171.0,204.5 172.8,204.5 174.5,204.5 176.2,204.5 178.0,204.5 179.7,204.5 181.4,204.5 183.2,204.5 184.9,204.5 186.7,204.5 188.4,204.5 190.1,204.5 191.9,204.5 193.6,204.5 195.4,204.5 197.1,204.5 198.8,204.5 200.6,204.5 202.3,204.5 204.1,204.5 205.8,204.5 207.5,204.5 209.3,204.5 211.0,204.5 212.7,204.5 214.5,204.5 216.2,204.5 218.0,204.5 219.7,204.5 221.4,204.5 223.2,204.5 224.9,204.5 226.7,204.5 228.4,204.5 230.1,204.5 231.9,204.5 233.6,204.5 235.3,204.5 237.1,204.5 238.8,204.5 240.6,204.5 242.3,204.5 244.0,204.5 245.8,204.5 247.5,204.5 249.3,204.5 251.0,204.5 252.7,204.5 254.5,204.5 256.2,204.5 257.9,204.5 259.7,204.5 261.4,204.5 263.2,204.5 264.9,204.5 266.6,204.5 268.4,204.5 270.1,204.5 271.9,204.5 273.6,204.5 275.3,204.5 277.1,204.5 278.8,204.5 280.6,204.5 282.3,204.5 284.0,204.5 285.8,204.5 287.5,204.5 289.2,204.5 291.0,204.5 292.7,204.5 294.5,204.5 296.2,204.5 297.9,204.5 299.7,204.5 301.4,204.5 303.2,204.5 304.9,204.5 306.6,204.5 308.4,204.5 310.1,204.5 311.8,204.5 313.6,204.5 315.3,204.5 317.1,204.5 318.8,204.5 320.5,204.5 322.3,204.5 324.0,204.5 325.8,204.5 327.5,204.5 329.2,204.5 331.0,204.5 332.7,204.5 334.5,204.5 336.2,204.5 337.9,204.5 339.7,204.5 341.4,204.5 343.1,204.5 344.9,204.5 346.6,204.5 348.4,204.5 350.1,204.5 351.8,204.5 353.6,204.5 355.3,204.5 357.1,204.5 358.8,204.5 360.5,204.5 362.3,204.5 364.0,204.5 365.7,204.5 367.5,204.5 369.2,204.5 371.0,204.5 372.7,204.5 374.4,204.5 376.2,204.5 377.9,204.5 379.7,204.5 381.4,204.5 383.1,204.5 384.9,204.5 386.6,204.5 388.4,204.5 390.1,204.5 391.8,204.5 393.6,204.5 395.3,204.5 397.0,204.5 398.8,205.1 400.5,205.8 402.3,206.7 404.0,208.9 404.0,208.9 402.3,211.1 400.5,212.1 398.8,212.8 397.0,213.4 395.3,213.4 393.6,213.4 391.8,213.4 390.1,213.4 388.4,213.4 386.6,213.4 384.9,213.4 383.1,213.4 381.4,213.4 379.7,213.4 377.9,213.4 376.2,213.4 374.4,213.4 372.7,213.4 371.0,213.4 369.2,213.4 367.5,213.4 365.7,213.4 364.0,213.4 362.3,213.4 360.5,213.4 358.8,213.4 357.1,213.4 355.3,213.4 353.6,213.4 351.8,213.4 350.1,213.4 348.4,213.4 346.6,213.4 344.9,213.4 343.1,213.4 341.4,213.4 339.7,213.4 337.9,213.4 336.2,213.4 334.5,213.4 332.7,213.4 331.0,213.4 329.2,213.4 327.5,213.4 325.8,213.4 324.0,213.4 322.3,213.4 320.5,213.4 318.8,213.4 317.1,213.4 315.3,213.4 313.6,213.4 311.8,213.4 310.1,213.4 308.4,213.4 306.6,213.4 304.9,213.4 303.2,213.4 301.4,213.4 299.7,213.4 297.9,213.4 296.2,213.4 294.5,213.4 292.7,213.4 291.0,213.4 289.2,213.4 287.5,213.4 285.8,213.4 284.0,213.4 282.3,213.4 280.6,213.4 278.8,213.4 277.1,213.4 275.3,213.4 273.6,213.4 271.9,213.4 270.1,213.4 268.4,213.4 266.6,213.4 264.9,213.4 263.2,213.4 261.4,213.4 259.7,213.4 257.9,213.4 256.2,213.4 254.5,213.4 252.7,213.4 251.0,213.4 249.3,213.4 247.5,213.4 245.8,213.4 244.0,213.4 242.3,213.4 240.6,213.4 238.8,213.4 237.1,213.4 235.3,213.4 233.6,213.4 231.9,213.4 230.1,213.4 228.4,213.4 226.7,213.4 224.9,213.4 223.2,213.4 221.4,213.4 219.7,213.4 218.0,213.4 216.2,213.4 214.5,213.4 212.7,213.4 211.0,213.4 209.3,213.4 207.5,213.4 205.8,213.4 204.1,213.4 202.3,213.4 200.6,213.4 198.8,213.4 197.1,213.4 195.4,213.4 193.6,213.4 191.9,213.4 190.1,213.4 188.4,213.4 186.7,213.4 184.9,213.4 183.2,213.4 181.4,213.4 179.7,213.4 178.0,213.4 176.2,213.4 174.5,213.4 172.8,213.4 171.0,213.4 169.3,213.4 167.5,213.4 165.8,213.4 164.1,213.4 162.3,213.4 160.6,213.4 158.8,213.4 157.1,213.4 155.4,213.4 153.6,213.4 151.9,213.4 150.2,213.4 148.4,213.4 146.7,213.4 144.9,213.4 143.2,213.4 141.5,213.4 139.7,213.4 138.0,213.4 136.2,213.4 134.5,213.4 132.8,213.4 131.0,213.4 129.3,213.4 127.5,213.4 125.8,213.4 124.1,213.4 122.3,213.4 120.6,213.4 118.9,213.4 117.1,213.4 115.4,213.4 113.6,213.4 111.9,213.4 110.2,213.4 108.4,213.4 106.7,213.4 104.9,213.4 103.2,213.4 101.5,213.4 99.7,213.4 98.0,213.4 96.3,213.4 94.5,213.4 92.8,213.4 91.0,213.4 89.3,213.4 87.6,213.4 85.8,213.4 84.1,213.4 82.3,213.4 80.6,213.4 78.9,213.4 77.1,213.4 75.4,213.4 73.6,213.4 71.9,213.4 70.2,213.4 68.4,213.4 66.7,213.3 65.0,212.9 63.2,212.3 61.5,211.7 59.7,210.9 58.0,208.9Z" fill="#70cf55"/>
<path d="M72.0,208.9 73.6,207.6 75.2,207.1 76.8,206.7 78.4,206.3 80.0,206.0 81.6,205.7 83.3,205.5 84.9,205.3 86.5,205.1 88.1,205.1 89.7,205.1 91.3,205.1 92.9,205.1 94.5,205.1 96.1,205.1 97.7,205.1 99.3,205.1 100.9,205.1 102.6,205.1 104.2,205.1 105.8,205.1 107.4,205.1 109.0,205.1 110.6,205.1 112.2,205.1 113.8,205.1 115.4,205.1 117.0,205.1 118.6,205.1 120.2,205.1 121.8,205.1 123.5,205.1 125.1,205.1 126.7,205.1 128.3,205.1 129.9,205.1 131.5,205.1 133.1,205.1 134.7,205.1 136.3,205.1 137.9,205.1 139.5,205.1 141.1,205.1 142.8,205.1 144.4,205.1 146.0,205.1 147.6,205.1 149.2,205.1 150.8,205.1 152.4,205.1 154.0,205.1 155.6,205.1 157.2,205.1 158.8,205.1 160.4,205.1 162.1,205.1 163.7,205.1 165.3,205.1 166.9,205.1 168.5,205.1 170.1,205.1 171.7,205.1 173.3,205.1 174.9,205.1 176.5,205.1 178.1,205.1 179.7,205.1 181.3,205.1 183.0,205.1 184.6,205.1 186.2,205.1 187.8,205.1 189.4,205.1 191.0,205.1 192.6,205.1 194.2,205.1 195.8,205.1 197.4,205.1 199.0,205.1 200.6,205.1 202.3,205.1 203.9,205.1 205.5,205.1 207.1,205.1 208.7,205.1 210.3,205.1 211.9,205.1 213.5,205.1 215.1,205.1 216.7,205.1 218.3,205.1 219.9,205.1 221.5,205.1 223.2,205.1 224.8,205.1 226.4,205.1 228.0,205.1 229.6,205.1 231.2,205.1 232.8,205.1 234.4,205.1 236.0,205.1 237.6,205.1 239.2,205.1 240.8,205.1 242.5,205.1 244.1,205.1 245.7,205.1 247.3,205.1 248.9,205.1 250.5,205.1 252.1,205.1 253.7,205.1 255.3,205.1 256.9,205.1 258.5,205.1 260.1,205.1 261.7,205.1 263.4,205.1 265.0,205.1 266.6,205.1 268.2,205.1 269.8,205.1 271.4,205.1 273.0,205.1 274.6,205.1 276.2,205.1 277.8,205.1 279.4,205.1 281.0,205.1 282.7,205.1 284.3,205.1 285.9,205.1 287.5,205.1 289.1,205.1 290.7,205.1 292.3,205.1 293.9,205.1 295.5,205.1 297.1,205.1 298.7,205.1 300.3,205.1 301.9,205.1 303.6,205.1 305.2,205.1 306.8,205.1 308.4,205.1 310.0,205.1 311.6,205.1 313.2,205.1 314.8,205.1 316.4,205.1 318.0,205.1 319.6,205.1 321.2,205.1 322.9,205.1 324.5,205.1 326.1,205.1 327.7,205.1 329.3,205.1 330.9,205.1 332.5,205.1 334.1,205.1 335.7,205.1 337.3,205.1 338.9,205.1 340.5,205.1 342.2,205.1 343.8,205.1 345.4,205.1 347.0,205.1 348.6,205.1 350.2,205.1 351.8,205.1 353.4,205.1 355.0,205.1 356.6,205.1 358.2,205.1 359.8,205.1 361.4,205.1 363.1,205.1 364.7,205.1 366.3,205.1 367.9,205.1 369.5,205.1 371.1,205.1 372.7,205.1 374.3,205.1 375.9,205.1 377.5,205.3 379.1,205.5 380.7,205.7 382.4,205.9 384.0,206.2 385.6,206.5 387.2,206.8 388.8,207.2 390.4,207.7 392.0,208.9 392.0,208.9 390.4,210.1 388.8,210.6 387.2,211.0 385.6,211.4 384.0,211.7 382.4,211.9 380.7,212.2 379.1,212.4 377.5,212.6 375.9,212.8 374.3,212.8 372.7,212.8 371.1,212.8 369.5,212.8 367.9,212.8 366.3,212.8 364.7,212.8 363.1,212.8 361.4,212.8 359.8,212.8 358.2,212.8 356.6,212.8 355.0,212.8 353.4,212.8 351.8,212.8 350.2,212.8 348.6,212.8 347.0,212.8 345.4,212.8 343.8,212.8 342.2,212.8 340.5,212.8 338.9,212.8 337.3,212.8 335.7,212.8 334.1,212.8 332.5,212.8 330.9,212.8 329.3,212.8 327.7,212.8 326.1,212.8 324.5,212.8 322.9,212.8 321.2,212.8 319.6,212.8 318.0,212.8 316.4,212.8 314.8,212.8 313.2,212.8 311.6,212.8 310.0,212.8 308.4,212.8 306.8,212.8 305.2,212.8 303.6,212.8 301.9,212.8 300.3,212.8 298.7,212.8 297.1,212.8 295.5,212.8 293.9,212.8 292.3,212.8 290.7,212.8 289.1,212.8 287.5,212.8 285.9,212.8 284.3,212.8 282.7,212.8 281.0,212.8 279.4,212.8 277.8,212.8 276.2,212.8 274.6,212.8 273.0,212.8 271.4,212.8 269.8,212.8 268.2,212.8 266.6,212.8 265.0,212.8 263.4,212.8 261.7,212.8 260.1,212.8 258.5,212.8 256.9,212.8 255.3,212.8 253.7,212.8 252.1,212.8 250.5,212.8 248.9,212.8 247.3,212.8 245.7,212.8 244.1,212.8 242.5,212.8 240.8,212.8 239.2,212.8 237.6,212.8 236.0,212.8 234.4,212.8 232.8,212.8 231.2,212.8 229.6,212.8 228.0,212.8 226.4,212.8 224.8,212.8 223.2,212.8 221.5,212.8 219.9,212.8 218.3,212.8 216.7,212.8 215.1,212.8 213.5,212.8 211.9,212.8 210.3,212.8 208.7,212.8 207.1,212.8 205.5,212.8 203.9,212.8 202.3,212.8 200.6,212.8 199.0,212.8 197.4,212.8 195.8,212.8 194.2,212.8 192.6,212.8 191.0,212.8 189.4,212.8 187.8,212.8 186.2,212.8 184.6,212.8 183.0,212.8 181.3,212.8 179.7,212.8 178.1,212.8 176.5,212.8 174.9,212.8 173.3,212.8 171.7,212.8 170.1,212.8 168.5,212.8 166.9,212.8 165.3,212.8 163.7,212.8 162.1,212.8 160.4,212.8 158.8,212.8 157.2,212.8 155.6,212.8 154.0,212.8 152.4,212.8 150.8,212.8 149.2,212.8 147.6,212.8 146.0,212.8 144.4,212.8 142.8,212.8 141.1,212.8 139.5,212.8 137.9,212.8 136.3,212.8 134.7,212.8 133.1,212.8 131.5,212.8 129.9,212.8 128.3,212.8 126.7,212.8 125.1,212.8 123.5,212.8 121.8,212.8 120.2,212.8 118.6,212.8 117.0,212.8 115.4,212.8 113.8,212.8 112.2,212.8 110.6,212.8 109.0,212.8 107.4,212.8 105.8,212.8 104.2,212.8 102.6,212.8 100.9,212.8 99.3,212.8 97.7,212.8 96.1,212.8 94.5,212.8 92.9,212.8 91.3,212.8 89.7,212.8 88.1,212.8 86.5,212.8 84.9,212.6 83.3,212.4 81.6,212.1 80.0,211.9 78.4,211.5 76.8,211.2 75.2,210.8 73.6,210.2 72.0,208.9Z" fill="#8fdc38"/>
<path d="M82.0,208.9 83.5,207.9 85.0,207.4 86.5,207.1 87.9,206.8 89.4,206.6 90.9,206.4 92.4,206.2 93.9,206.0 95.4,205.8 96.9,205.6 98.4,205.5 99.8,205.3 101.3,205.3 102.8,205.3 104.3,205.3 105.8,205.3 107.3,205.3 108.8,205.3 110.3,205.3 111.7,205.3 113.2,205.3 114.7,205.3 116.2,205.3 117.7,205.3 119.2,205.3 120.7,205.3 122.2,205.3 123.6,205.3 125.1,205.3 126.6,205.3 128.1,205.3 129.6,205.3 131.1,205.3 132.6,205.3 134.1,205.3 135.5,205.3 137.0,205.3 138.5,205.3 140.0,205.3 141.5,205.3 143.0,205.3 144.5,205.3 146.0,205.3 147.4,205.3 148.9,205.3 150.4,205.3 151.9,205.3 153.4,205.3 154.9,205.3 156.4,205.3 157.9,205.3 159.3,205.3 160.8,205.3 162.3,205.3 163.8,205.3 165.3,205.3 166.8,205.3 168.3,205.3 169.8,205.3 171.2,205.3 172.7,205.3 174.2,205.3 175.7,205.3 177.2,205.3 178.7,205.3 180.2,205.3 181.7,205.3 183.1,205.3 184.6,205.3 186.1,205.3 187.6,205.3 189.1,205.3 190.6,205.3 192.1,205.3 193.6,205.3 195.0,205.3 196.5,205.3 198.0,205.3 199.5,205.3 201.0,205.3 202.5,205.3 204.0,205.3 205.5,205.3 206.9,205.3 208.4,205.3 209.9,205.3 211.4,205.3 212.9,205.3 214.4,205.3 215.9,205.3 217.4,205.3 218.8,205.3 220.3,205.3 221.8,205.3 223.3,205.3 224.8,205.3 226.3,205.3 227.8,205.3 229.3,205.3 230.7,205.3 232.2,205.3 233.7,205.3 235.2,205.3 236.7,205.3 238.2,205.3 239.7,205.3 241.2,205.3 242.6,205.3 244.1,205.3 245.6,205.3 247.1,205.3 248.6,205.3 250.1,205.3 251.6,205.3 253.1,205.3 254.5,205.3 256.0,205.3 257.5,205.3 259.0,205.3 260.5,205.3 262.0,205.3 263.5,205.3 265.0,205.3 266.4,205.3 267.9,205.3 269.4,205.3 270.9,205.3 272.4,205.3 273.9,205.3 275.4,205.3 276.9,205.3 278.3,205.3 279.8,205.3 281.3,205.3 282.8,205.3 284.3,205.3 285.8,205.3 287.3,205.3 288.8,205.3 290.2,205.3 291.7,205.3 293.2,205.3 294.7,205.3 296.2,205.3 297.7,205.3 299.2,205.3 300.7,205.3 302.1,205.3 303.6,205.3 305.1,205.3 306.6,205.3 308.1,205.3 309.6,205.3 311.1,205.3 312.6,205.3 314.0,205.3 315.5,205.3 317.0,205.3 318.5,205.3 320.0,205.3 321.5,205.3 323.0,205.3 324.5,205.3 325.9,205.3 327.4,205.3 328.9,205.3 330.4,205.3 331.9,205.3 333.4,205.3 334.9,205.3 336.4,205.3 337.8,205.3 339.3,205.3 340.8,205.3 342.3,205.3 343.8,205.3 345.3,205.3 346.8,205.3 348.3,205.3 349.7,205.3 351.2,205.3 352.7,205.3 354.2,205.5 355.7,205.6 357.2,205.7 358.7,205.8 360.2,205.9 361.6,206.0 363.1,206.2 364.6,206.3 366.1,206.5 367.6,206.6 369.1,206.8 370.6,207.0 372.1,207.2 373.5,207.4 375.0,207.7 376.5,208.0 378.0,208.9 378.0,208.9 376.5,209.8 375.0,210.2 373.5,210.4 372.1,210.7 370.6,210.9 369.1,211.1 367.6,211.2 366.1,211.4 364.6,211.6 363.1,211.7 361.6,211.8 360.2,212.0 358.7,212.1 357.2,212.2 355.7,212.3 354.2,212.4 352.7,212.5 351.2,212.6 349.7,212.6 348.3,212.6 346.8,212.6 345.3,212.6 343.8,212.6 342.3,212.6 340.8,212.6 339.3,212.6 337.8,212.6 336.4,212.6 334.9,212.6 333.4,212.6 331.9,212.6 330.4,212.6 328.9,212.6 327.4,212.6 325.9,212.6 324.5,212.6 323.0,212.6 321.5,212.6 320.0,212.6 318.5,212.6 317.0,212.6 315.5,212.6 314.0,212.6 312.6,212.6 311.1,212.6 309.6,212.6 308.1,212.6 306.6,212.6 305.1,212.6 303.6,212.6 302.1,212.6 300.7,212.6 299.2,212.6 297.7,212.6 296.2,212.6 294.7,212.6 293.2,212.6 291.7,212.6 290.2,212.6 288.8,212.6 287.3,212.6 285.8,212.6 284.3,212.6 282.8,212.6 281.3,212.6 279.8,212.6 278.3,212.6 276.9,212.6 275.4,212.6 273.9,212.6 272.4,212.6 270.9,212.6 269.4,212.6 267.9,212.6 266.4,212.6 265.0,212.6 263.5,212.6 262.0,212.6 260.5,212.6 259.0,212.6 257.5,212.6 256.0,212.6 254.5,212.6 253.1,212.6 251.6,212.6 250.1,212.6 248.6,212.6 247.1,212.6 245.6,212.6 244.1,212.6 242.6,212.6 241.2,212.6 239.7,212.6 238.2,212.6 236.7,212.6 235.2,212.6 233.7,212.6 232.2,212.6 230.7,212.6 229.3,212.6 227.8,212.6 226.3,212.6 224.8,212.6 223.3,212.6 221.8,212.6 220.3,212.6 218.8,212.6 217.4,212.6 215.9,212.6 214.4,212.6 212.9,212.6 211.4,212.6 209.9,212.6 208.4,212.6 206.9,212.6 205.5,212.6 204.0,212.6 202.5,212.6 201.0,212.6 199.5,212.6 198.0,212.6 196.5,212.6 195.0,212.6 193.6,212.6 192.1,212.6 190.6,212.6 189.1,212.6 187.6,212.6 186.1,212.6 184.6,212.6 183.1,212.6 181.7,212.6 180.2,212.6 178.7,212.6 177.2,212.6 175.7,212.6 174.2,212.6 172.7,212.6 171.2,212.6 169.8,212.6 168.3,212.6 166.8,212.6 165.3,212.6 163.8,212.6 162.3,212.6 160.8,212.6 159.3,212.6 157.9,212.6 156.4,212.6 154.9,212.6 153.4,212.6 151.9,212.6 150.4,212.6 148.9,212.6 147.4,212.6 146.0,212.6 144.5,212.6 143.0,212.6 141.5,212.6 140.0,212.6 138.5,212.6 137.0,212.6 135.5,212.6 134.1,212.6 132.6,212.6 131.1,212.6 129.6,212.6 128.1,212.6 126.6,212.6 125.1,212.6 123.6,212.6 122.2,212.6 120.7,212.6 119.2,212.6 117.7,212.6 116.2,212.6 114.7,212.6 113.2,212.6 111.7,212.6 110.3,212.6 108.8,212.6 107.3,212.6 105.8,212.6 104.3,212.6 102.8,212.6 101.3,212.6 99.8,212.6 98.4,212.4 96.9,212.3 95.4,212.1 93.9,211.9 92.4,211.7 90.9,211.5 89.4,211.3 87.9,211.0 86.5,210.7 85.0,210.4 83.5,210.0 82.0,208.9Z" fill="#b6f21a"/>
<path d="M72.0,218.0 73.6,217.0 75.2,216.6 76.8,216.3 78.4,216.0 80.0,215.8 81.6,215.5 83.3,215.5 84.9,215.5 86.5,215.5 88.1,215.5 89.7,215.5 91.3,215.5 92.9,215.5 94.5,215.5 96.1,215.5 97.7,215.5 99.3,215.5 100.9,215.5 102.6,215.5 104.2,215.5 105.8,215.5 107.4,215.5 109.0,215.5 110.6,215.5 112.2,215.5 113.8,215.5 115.4,215.5 117.0,215.5 118.6,215.5 120.2,215.5 121.8,215.5 123.5,215.5 125.1,215.5 126.7,215.5 128.3,215.5 129.9,215.5 131.5,215.5 133.1,215.5 134.7,215.5 136.3,215.5 137.9,215.5 139.5,215.5 141.1,215.5 142.8,215.5 144.4,215.5 146.0,215.5 147.6,215.5 149.2,215.5 150.8,215.5 152.4,215.5 154.0,215.5 155.6,215.5 157.2,215.5 158.8,215.5 160.4,215.5 162.1,215.5 163.7,215.5 165.3,215.5 166.9,215.5 168.5,215.5 170.1,215.5 171.7,215.5 173.3,215.5 174.9,215.5 176.5,215.5 178.1,215.5 179.7,215.5 181.3,215.5 183.0,215.5 184.6,215.5 186.2,215.5 187.8,215.5 189.4,215.5 191.0,215.5 192.6,215.5 194.2,215.5 195.8,215.5 197.4,215.5 199.0,215.5 200.6,215.5 202.3,215.5 203.9,215.5 205.5,215.5 207.1,215.5 208.7,215.5 210.3,215.5 211.9,215.5 213.5,215.5 215.1,215.5 216.7,215.5 218.3,215.5 219.9,215.5 221.5,215.5 223.2,215.5 224.8,215.5 226.4,215.5 228.0,215.5 229.6,215.5 231.2,215.5 232.8,215.5 234.4,215.5 236.0,215.5 237.6,215.5 239.2,215.5 240.8,215.5 242.5,215.5 244.1,215.5 245.7,215.5 247.3,215.5 248.9,215.5 250.5,215.5 252.1,215.5 253.7,215.5 255.3,215.5 256.9,215.5 258.5,215.5 260.1,215.5 261.7,215.5 263.4,215.5 265.0,215.5 266.6,215.5 268.2,215.5 269.8,215.5 271.4,215.5 273.0,215.5 274.6,215.5 276.2,215.5 277.8,215.5 279.4,215.5 281.0,215.5 282.7,215.5 284.3,215.5 285.9,215.5 287.5,215.5 289.1,215.5 290.7,215.5 292.3,215.5 293.9,215.5 295.5,215.5 297.1,215.5 298.7,215.5 300.3,215.5 301.9,215.5 303.6,215.5 305.2,215.5 306.8,215.5 308.4,215.5 310.0,215.5 311.6,215.5 313.2,215.5 314.8,215.5 316.4,215.5 318.0,215.5 319.6,215.5 321.2,215.5 322.9,215.5 324.5,215.5 326.1,215.5 327.7,215.5 329.3,215.5 330.9,215.5 332.5,215.5 334.1,215.5 335.7,215.5 337.3,215.5 338.9,215.5 340.5,215.5 342.2,215.5 343.8,215.5 345.4,215.5 347.0,215.5 348.6,215.5 350.2,215.5 351.8,215.5 353.4,215.5 355.0,215.5 356.6,215.5 358.2,215.5 359.8,215.5 361.4,215.5 363.1,215.5 364.7,215.5 366.3,215.5 367.9,215.5 369.5,215.5 371.1,215.5 372.7,215.5 374.3,215.5 375.9,215.5 377.5,215.5 379.1,215.5 380.7,215.6 382.4,215.8 384.0,216.0 385.6,216.2 387.2,216.4 388.8,216.7 390.4,217.1 392.0,218.0 392.0,218.0 390.4,218.9 388.8,219.3 387.2,219.6 385.6,219.8 384.0,220.0 382.4,220.2 380.7,220.4 379.1,220.5 377.5,220.5 375.9,220.5 374.3,220.5 372.7,220.5 371.1,220.5 369.5,220.5 367.9,220.5 366.3,220.5 364.7,220.5 363.1,220.5 361.4,220.5 359.8,220.5 358.2,220.5 356.6,220.5 355.0,220.5 353.4,220.5 351.8,220.5 350.2,220.5 348.6,220.5 347.0,220.5 345.4,220.5 343.8,220.5 342.2,220.5 340.5,220.5 338.9,220.5 337.3,220.5 335.7,220.5 334.1,220.5 332.5,220.5 330.9,220.5 329.3,220.5 327.7,220.5 326.1,220.5 324.5,220.5 322.9,220.5 321.2,220.5 319.6,220.5 318.0,220.5 316.4,220.5 314.8,220.5 313.2,220.5 311.6,220.5 310.0,220.5 308.4,220.5 306.8,220.5 305.2,220.5 303.6,220.5 301.9,220.5 300.3,220.5 298.7,220.5 297.1,220.5 295.5,220.5 293.9,220.5 292.3,220.5 290.7,220.5 289.1,220.5 287.5,220.5 285.9,220.5 284.3,220.5 282.7,220.5 281.0,220.5 279.4,220.5 277.8,220.5 276.2,220.5 274.6,220.5 273.0,220.5 271.4,220.5 269.8,220.5 268.2,220.5 266.6,220.5 265.0,220.5 263.4,220.5 261.7,220.5 260.1,220.5 258.5,220.5 256.9,220.5 255.3,220.5 253.7,220.5 252.1,220.5 250.5,220.5 248.9,220.5 247.3,220.5 245.7,220.5 244.1,220.5 242.5,220.5 240.8,220.5 239.2,220.5 237.6,220.5 236.0,220.5 234.4,220.5 232.8,220.5 231.2,220.5 229.6,220.5 228.0,220.5 226.4,220.5 224.8,220.5 223.2,220.5 221.5,220.5 219.9,220.5 218.3,220.5 216.7,220.5 215.1,220.5 213.5,220.5 211.9,220.5 210.3,220.5 208.7,220.5 207.1,220.5 205.5,220.5 203.9,220.5 202.3,220.5 200.6,220.5 199.0,220.5 197.4,220.5 195.8,220.5 194.2,220.5 192.6,220.5 191.0,220.5 189.4,220.5 187.8,220.5 186.2,220.5 184.6,220.5 183.0,220.5 181.3,220.5 179.7,220.5 178.1,220.5 176.5,220.5 174.9,220.5 173.3,220.5 171.7,220.5 170.1,220.5 168.5,220.5 166.9,220.5 165.3,220.5 163.7,220.5 162.1,220.5 160.4,220.5 158.8,220.5 157.2,220.5 155.6,220.5 154.0,220.5 152.4,220.5 150.8,220.5 149.2,220.5 147.6,220.5 146.0,220.5 144.4,220.5 142.8,220.5 141.1,220.5 139.5,220.5 137.9,220.5 136.3,220.5 134.7,220.5 133.1,220.5 131.5,220.5 129.9,220.5 128.3,220.5 126.7,220.5 125.1,220.5 123.5,220.5 121.8,220.5 120.2,220.5 118.6,220.5 117.0,220.5 115.4,220.5 113.8,220.5 112.2,220.5 110.6,220.5 109.0,220.5 107.4,220.5 105.8,220.5 104.2,220.5 102.6,220.5 100.9,220.5 99.3,220.5 97.7,220.5 96.1,220.5 94.5,220.5 92.9,220.5 91.3,220.5 89.7,220.5 88.1,220.5 86.5,220.5 84.9,220.5 83.3,220.5 81.6,220.5 80.0,220.2 78.4,220.0 76.8,219.7 75.2,219.4 73.6,219.0 72.0,218.0Z" fill="#2d6f9a"/>
<ellipse cx="87.2" cy="218.1" rx="6.0" ry="1.4" fill="#2a4f9a"/>
<ellipse cx="118.6" cy="218.1" rx="6.0" ry="1.4" fill="#2a4f9a"/>
<ellipse cx="150.0" cy="218.1" rx="6.0" ry="1.4" fill="#2a4f9a"/>
<ellipse cx="181.4" cy="218.1" rx="6.0" ry="1.4" fill="#2a4f9a"/>
<ellipse cx="212.8" cy="218.1" rx="6.0" ry="1.4" fill="#2a4f9a"/>
<ellipse cx="244.2" cy="218.1" rx="6.0" ry="1.4" fill="#2a4f9a"/>
<ellipse cx="275.6" cy="218.1" rx="6.0" ry="1.4" fill="#2a4f9a"/>
<ellipse cx="307.0" cy="218.1" rx="6.0" ry="1.4" fill="#2a4f9a"/>
<ellipse cx="338.4" cy="218.1" rx="6.0" ry="1.4" fill="#2a4f9a"/>
<ellipse cx="369.8" cy="218.1" rx="6.0" ry="1.4" fill="#2a4f9a"/>
<path d="M54.5,225.2 56.1,222.9 57.7,221.9 59.3,221.2 60.9,220.7 62.5,220.7 64.1,220.7 65.7,220.7 67.3,220.7 68.9,220.7 70.5,220.7 72.1,220.7 73.7,220.7 75.3,220.7 76.9,220.7 78.5,220.7 80.1,220.7 81.7,220.7 83.3,220.7 85.0,220.7 86.6,220.7 88.2,220.7 89.8,220.7 91.4,220.7 93.0,220.7 94.6,220.7 96.2,220.7 97.8,220.7 99.4,220.7 101.0,220.7 102.6,220.7 104.2,220.7 105.8,220.7 107.4,220.7 109.0,220.7 110.6,220.7 112.2,220.7 113.8,220.7 115.4,220.7 117.0,220.7 118.6,220.7 120.2,220.7 121.8,220.7 123.4,220.7 125.0,220.7 126.6,220.7 128.2,220.7 129.8,220.7 131.4,220.7 133.0,220.7 134.6,220.7 136.2,220.7 137.8,220.7 139.4,220.7 141.0,220.7 142.7,220.7 144.3,220.7 145.9,220.7 147.5,220.7 149.1,220.7 150.7,220.7 152.3,220.7 153.9,220.7 155.5,220.8 157.1,220.8 158.7,220.8 160.3,220.8 161.9,220.8 163.5,220.8 165.1,220.9 166.7,220.9 168.3,220.9 169.9,220.9 171.5,220.9 173.1,220.9 174.7,220.9 176.3,221.0 177.9,221.0 179.5,221.0 181.1,221.0 182.7,221.0 184.3,221.0 185.9,221.1 187.5,221.1 189.1,221.1 190.7,221.1 192.3,221.1 193.9,221.2 195.5,221.2 197.1,221.2 198.7,221.2 200.3,221.3 202.0,221.3 203.6,221.3 205.2,221.3 206.8,221.4 208.4,221.4 210.0,221.4 211.6,221.4 213.2,221.4 214.8,221.5 216.4,221.5 218.0,221.5 219.6,221.5 221.2,221.6 222.8,221.6 224.4,221.6 226.0,221.6 227.6,221.7 229.2,221.7 230.8,221.7 232.4,221.7 234.0,221.7 235.6,221.7 237.2,221.7 238.8,221.7 240.4,221.7 242.0,221.7 243.6,221.7 245.2,221.7 246.8,221.7 248.4,221.7 250.0,221.8 251.6,221.8 253.2,221.8 254.8,221.8 256.4,221.8 258.0,221.8 259.7,221.8 261.3,221.8 262.9,221.8 264.5,221.8 266.1,221.8 267.7,221.8 269.3,221.8 270.9,221.8 272.5,221.8 274.1,221.8 275.7,221.7 277.3,221.7 278.9,221.7 280.5,221.7 282.1,221.7 283.7,221.6 285.3,221.6 286.9,221.6 288.5,221.6 290.1,221.6 291.7,221.6 293.3,221.5 294.9,221.5 296.5,221.5 298.1,221.5 299.7,221.5 301.3,221.5 302.9,221.4 304.5,221.4 306.1,221.4 307.7,221.4 309.3,221.4 310.9,221.3 312.5,221.3 314.1,221.3 315.7,221.3 317.3,221.3 319.0,221.2 320.6,221.2 322.2,221.2 323.8,221.2 325.4,221.1 327.0,221.1 328.6,221.1 330.2,221.1 331.8,221.0 333.4,221.0 335.0,221.0 336.6,220.9 338.2,220.9 339.8,220.9 341.4,220.9 343.0,220.8 344.6,220.8 346.2,220.8 347.8,220.8 349.4,220.7 351.0,220.7 352.6,220.7 354.2,220.7 355.8,220.6 357.4,220.6 359.0,220.6 360.6,220.6 362.2,220.5 363.8,220.5 365.4,220.4 367.0,220.4 368.6,220.3 370.2,220.2 371.8,220.2 373.4,220.1 375.0,220.0 376.7,219.9 378.3,219.9 379.9,219.8 381.5,219.8 383.1,219.8 384.7,219.8 386.3,219.8 387.9,219.8 389.5,219.8 391.1,219.8 392.7,219.8 394.3,219.8 395.9,219.8 397.5,219.8 399.1,219.8 400.7,219.9 402.3,220.8 403.9,221.9 405.5,224.8 405.5,224.8 403.9,228.0 402.3,229.0 400.7,229.7 399.1,229.5 397.5,229.3 395.9,229.1 394.3,229.1 392.7,229.2 391.1,229.3 389.5,229.6 387.9,229.9 386.3,230.2 384.7,230.5 383.1,230.8 381.5,231.0 379.9,231.1 378.3,231.1 376.7,230.9 375.0,230.6 373.4,230.3 371.8,229.9 370.2,229.5 368.6,229.2 367.0,229.0 365.4,228.9 363.8,229.0 362.2,229.1 360.6,229.4 359.0,229.7 357.4,230.1 355.8,230.3 354.2,230.6 352.6,230.6 351.0,230.6 349.4,230.4 347.8,230.1 346.2,229.8 344.6,229.4 343.0,229.0 341.4,228.7 339.8,228.5 338.2,228.4 336.6,228.4 335.0,228.5 333.4,228.8 331.8,229.0 330.2,229.3 328.6,229.6 327.0,229.7 325.4,229.8 323.8,229.8 322.2,229.7 320.6,229.5 319.0,229.3 317.3,229.0 315.7,228.7 314.1,228.4 312.5,228.2 310.9,228.0 309.3,228.0 307.7,228.0 306.1,228.0 304.5,228.2 302.9,228.4 301.3,228.6 299.7,228.8 298.1,229.0 296.5,229.1 294.9,229.2 293.3,229.2 291.7,229.1 290.1,228.9 288.5,228.7 286.9,228.5 285.3,228.2 283.7,228.0 282.1,227.8 280.5,227.6 278.9,227.5 277.3,227.5 275.7,227.6 274.1,227.7 272.5,227.9 270.9,228.1 269.3,228.3 267.7,228.5 266.1,228.7 264.5,228.8 262.9,228.9 261.3,228.9 259.7,228.8 258.0,228.7 256.4,228.5 254.8,228.4 253.2,228.2 251.6,228.0 250.0,227.8 248.4,227.7 246.8,227.7 245.2,227.6 243.6,227.7 242.0,227.8 240.4,228.0 238.8,228.1 237.2,228.4 235.6,228.6 234.0,228.8 232.4,229.0 230.8,229.1 229.2,229.2 227.6,229.3 226.0,229.3 224.4,229.2 222.8,229.0 221.2,228.9 219.6,228.7 218.0,228.5 216.4,228.3 214.8,228.2 213.2,228.1 211.6,228.2 210.0,228.3 208.4,228.5 206.8,228.8 205.2,229.1 203.6,229.4 202.0,229.7 200.3,229.9 198.7,230.1 197.1,230.2 195.5,230.2 193.9,230.1 192.3,230.0 190.7,229.8 189.1,229.6 187.5,229.3 185.9,229.1 184.3,228.9 182.7,228.8 181.1,228.7 179.5,228.8 177.9,228.9 176.3,229.1 174.7,229.4 173.1,229.7 171.5,230.0 169.9,230.4 168.3,230.6 166.7,230.8 165.1,231.0 163.5,231.0 161.9,230.9 160.3,230.7 158.7,230.4 157.1,230.1 155.5,229.7 153.9,229.4 152.3,229.2 150.7,229.1 149.1,229.1 147.5,229.2 145.9,229.4 144.3,229.8 142.7,230.1 141.0,230.5 139.4,230.9 137.8,231.2 136.2,231.3 134.6,231.4 133.0,231.3 131.4,231.1 129.8,230.8 128.2,230.4 126.6,230.0 125.0,229.7 123.4,229.3 121.8,229.1 120.2,229.0 118.6,229.0 117.0,229.1 115.4,229.3 113.8,229.7 112.2,230.1 110.6,230.5 109.0,230.9 107.4,231.2 105.8,231.4 104.2,231.5 102.6,231.5 101.0,231.3 99.4,231.1 97.8,230.8 96.2,230.4 94.6,230.0 93.0,229.6 91.4,229.3 89.8,229.0 88.2,228.8 86.6,228.8 85.0,228.9 83.3,229.1 81.7,229.3 80.1,229.7 78.5,230.1 76.9,230.5 75.3,230.9 73.7,231.3 72.1,231.5 70.5,231.6 68.9,231.6 67.3,231.5 65.7,231.2 64.1,230.9 62.5,230.4 60.9,230.0 59.3,229.1 57.7,228.1 56.1,227.1 54.5,225.2Z" fill="#2aa184"/>
<path d="M57.0,225.2 58.6,223.2 60.2,222.4 61.8,221.7 63.3,221.3 64.9,221.3 66.5,221.3 68.1,221.3 69.7,221.3 71.3,221.3 72.8,221.3 74.4,221.3 76.0,221.3 77.6,221.3 79.2,221.3 80.8,221.3 82.4,221.3 83.9,221.3 85.5,221.3 87.1,221.3 88.7,221.3 90.3,221.3 91.9,221.3 93.4,221.3 95.0,221.3 96.6,221.3 98.2,221.3 99.8,221.3 101.4,221.3 102.9,221.3 104.5,221.3 106.1,221.3 107.7,221.3 109.3,221.3 110.9,221.3 112.5,221.3 114.0,221.3 115.6,221.3 117.2,221.3 118.8,221.3 120.4,221.3 122.0,221.3 123.5,221.3 125.1,221.3 126.7,221.3 128.3,221.3 129.9,221.3 131.5,221.3 133.1,221.3 134.6,221.3 136.2,221.3 137.8,221.3 139.4,221.3 141.0,221.3 142.6,221.3 144.1,221.3 145.7,221.3 147.3,221.3 148.9,221.3 150.5,221.3 152.1,221.3 153.7,221.3 155.2,221.4 156.8,221.4 158.4,221.4 160.0,221.4 161.6,221.4 163.2,221.4 164.7,221.4 166.3,221.5 167.9,221.5 169.5,221.5 171.1,221.5 172.7,221.5 174.3,221.5 175.8,221.6 177.4,221.6 179.0,221.6 180.6,221.6 182.2,221.6 183.8,221.6 185.3,221.7 186.9,221.7 188.5,221.7 190.1,221.7 191.7,221.7 193.3,221.7 194.8,221.8 196.4,221.8 198.0,221.8 199.6,221.8 201.2,221.9 202.8,221.9 204.4,221.9 205.9,221.9 207.5,222.0 209.1,222.0 210.7,222.0 212.3,222.0 213.9,222.1 215.4,222.1 217.0,222.1 218.6,222.1 220.2,222.2 221.8,222.2 223.4,222.2 225.0,222.2 226.5,222.2 228.1,222.3 229.7,222.3 231.3,222.3 232.9,222.3 234.5,222.3 236.0,222.3 237.6,222.3 239.2,222.3 240.8,222.3 242.4,222.3 244.0,222.3 245.6,222.3 247.1,222.3 248.7,222.3 250.3,222.4 251.9,222.4 253.5,222.4 255.1,222.4 256.6,222.4 258.2,222.4 259.8,222.4 261.4,222.4 263.0,222.4 264.6,222.4 266.2,222.4 267.7,222.4 269.3,222.4 270.9,222.4 272.5,222.4 274.1,222.4 275.7,222.3 277.2,222.3 278.8,222.3 280.4,222.3 282.0,222.3 283.6,222.2 285.2,222.2 286.7,222.2 288.3,222.2 289.9,222.2 291.5,222.2 293.1,222.1 294.7,222.1 296.3,222.1 297.8,222.1 299.4,222.1 301.0,222.1 302.6,222.0 304.2,222.0 305.8,222.0 307.3,222.0 308.9,222.0 310.5,221.9 312.1,221.9 313.7,221.9 315.3,221.9 316.9,221.9 318.4,221.8 320.0,221.8 321.6,221.8 323.2,221.8 324.8,221.7 326.4,221.7 327.9,221.7 329.5,221.7 331.1,221.6 332.7,221.6 334.3,221.6 335.9,221.6 337.5,221.5 339.0,221.5 340.6,221.5 342.2,221.5 343.8,221.4 345.4,221.4 347.0,221.4 348.5,221.4 350.1,221.3 351.7,221.3 353.3,221.3 354.9,221.2 356.5,221.2 358.1,221.2 359.6,221.2 361.2,221.1 362.8,221.1 364.4,221.1 366.0,221.0 367.6,220.9 369.1,220.9 370.7,220.8 372.3,220.7 373.9,220.7 375.5,220.6 377.1,220.5 378.6,220.5 380.2,220.4 381.8,220.4 383.4,220.4 385.0,220.4 386.6,220.4 388.2,220.4 389.7,220.4 391.3,220.6 392.9,220.9 394.5,221.2 396.1,221.5 397.7,221.8 399.2,222.2 400.8,222.7 402.4,223.3 404.0,224.8 404.0,224.8 402.4,226.3 400.8,226.8 399.2,227.1 397.7,227.3 396.1,227.5 394.5,227.7 392.9,228.0 391.3,228.3 389.7,228.7 388.2,229.0 386.6,229.3 385.0,229.6 383.4,229.9 381.8,230.1 380.2,230.3 378.6,230.3 377.1,230.2 375.5,229.9 373.9,229.6 372.3,229.2 370.7,228.8 369.1,228.5 367.6,228.3 366.0,228.1 364.4,228.1 362.8,228.3 361.2,228.5 359.6,228.8 358.1,229.1 356.5,229.4 354.9,229.7 353.3,229.8 351.7,229.8 350.1,229.7 348.5,229.5 347.0,229.1 345.4,228.8 343.8,228.4 342.2,228.1 340.6,227.8 339.0,227.6 337.5,227.6 335.9,227.7 334.3,227.8 332.7,228.1 331.1,228.3 329.5,228.6 327.9,228.8 326.4,229.0 324.8,229.1 323.2,229.0 321.6,228.9 320.0,228.7 318.4,228.4 316.9,228.1 315.3,227.8 313.7,227.6 312.1,227.3 310.5,227.2 308.9,227.2 307.3,227.2 305.8,227.3 304.2,227.4 302.6,227.6 301.0,227.8 299.4,228.0 297.8,228.2 296.3,228.3 294.7,228.4 293.1,228.4 291.5,228.3 289.9,228.1 288.3,227.9 286.7,227.7 285.2,227.4 283.6,227.2 282.0,227.0 280.4,226.8 278.8,226.7 277.2,226.7 275.7,226.8 274.1,226.9 272.5,227.1 270.9,227.3 269.3,227.5 267.7,227.7 266.2,227.9 264.6,228.0 263.0,228.1 261.4,228.1 259.8,228.0 258.2,227.9 256.6,227.8 255.1,227.6 253.5,227.4 251.9,227.2 250.3,227.1 248.7,226.9 247.1,226.9 245.6,226.8 244.0,226.9 242.4,227.0 240.8,227.1 239.2,227.3 237.6,227.5 236.0,227.7 234.5,227.9 232.9,228.1 231.3,228.3 229.7,228.4 228.1,228.5 226.5,228.5 225.0,228.4 223.4,228.3 221.8,228.1 220.2,227.9 218.6,227.7 217.0,227.6 215.4,227.4 213.9,227.4 212.3,227.4 210.7,227.4 209.1,227.6 207.5,227.8 205.9,228.1 204.4,228.4 202.8,228.7 201.2,229.0 199.6,229.2 198.0,229.3 196.4,229.4 194.8,229.4 193.3,229.3 191.7,229.1 190.1,228.9 188.5,228.7 186.9,228.4 185.3,228.2 183.8,228.0 182.2,227.9 180.6,227.9 179.0,228.0 177.4,228.1 175.8,228.4 174.3,228.7 172.7,229.0 171.1,229.3 169.5,229.6 167.9,229.9 166.3,230.1 164.7,230.2 163.2,230.2 161.6,230.0 160.0,229.8 158.4,229.5 156.8,229.2 155.2,228.9 153.7,228.6 152.1,228.4 150.5,228.3 148.9,228.3 147.3,228.4 145.7,228.7 144.1,229.0 142.6,229.4 141.0,229.7 139.4,230.1 137.8,230.4 136.2,230.5 134.6,230.6 133.1,230.5 131.5,230.3 129.9,230.0 128.3,229.7 126.7,229.3 125.1,228.9 123.5,228.6 122.0,228.3 120.4,228.2 118.8,228.2 117.2,228.3 115.6,228.5 114.0,228.8 112.5,229.2 110.9,229.6 109.3,230.0 107.7,230.4 106.1,230.6 104.5,230.7 102.9,230.7 101.4,230.6 99.8,230.4 98.2,230.1 96.6,229.7 95.0,229.3 93.4,228.9 91.9,228.6 90.3,228.3 88.7,228.1 87.1,228.0 85.5,228.0 83.9,228.2 82.4,228.4 80.8,228.8 79.2,229.1 77.6,229.6 76.0,230.0 74.4,230.3 72.8,230.6 71.3,230.8 69.7,230.9 68.1,230.8 66.5,230.6 64.9,230.3 63.3,229.9 61.8,229.0 60.2,227.9 58.6,226.9 57.0,225.2Z" fill="#36b878"/>
</g>
<path d="M86.0,205.2 90.6,205.2 95.2,205.2 99.9,205.2 104.5,205.2 109.1,205.2 113.7,205.2 118.4,205.2 123.0,205.2 127.6,205.2 132.2,205.2 136.9,205.2 141.5,205.2 146.1,205.2 150.7,205.2 155.3,205.2 160.0,205.2 164.6,205.2 169.2,205.2 173.8,205.2 178.5,205.2 183.1,205.2 187.7,205.2 192.3,205.2 197.0,205.2 201.6,205.2 206.2,205.2 210.8,205.2 215.4,205.2 220.1,205.2 224.7,205.2 229.3,205.2 233.9,205.2 238.6,205.2 243.2,205.2 247.8,205.2 252.4,205.2 257.1,205.2 261.7,205.2 266.3,205.2 270.9,205.2 275.6,205.2 280.2,205.2 284.8,205.2 289.4,205.2 294.0,205.2 298.7,205.2 303.3,205.2 307.9,205.2 312.5,205.2 317.2,205.2 321.8,205.2 326.4,205.2 331.0,205.2 335.7,205.2 340.3,205.2 344.9,205.2 349.5,205.2 354.1,205.2 358.8,205.2 363.4,205.2 368.0,205.2 372.6,205.2 377.3,205.2 381.9,205.3 386.5,205.6 391.1,206.2 395.8,207.0 400.4,208.1 405.0,209.5 406.2,210.1 405.4,211.6 403.5,213.0 401.0,214.2 399.0,214.9 393.7,214.8 388.4,214.7 383.1,214.5 377.8,214.3 372.5,214.0 367.2,213.8 361.9,213.6 356.6,213.5 351.3,213.3 345.9,213.3 340.6,213.3 335.3,213.3 330.0,213.2 324.7,213.2 319.4,213.2 314.1,213.2 308.8,213.2 303.5,213.1 298.2,213.1 292.9,213.1 287.6,213.1 282.3,213.1 277.0,213.1 271.7,213.0 266.4,213.0 261.1,213.0 255.8,213.0 250.5,212.9 245.2,212.9 239.8,212.8 234.5,212.8 229.2,212.7 223.9,212.7 218.6,212.7 213.3,212.6 208.0,212.6 202.7,212.5 197.4,212.5 192.1,212.5 186.8,212.5 181.5,212.5 176.2,212.5 170.9,212.5 165.6,212.5 160.3,212.5 155.0,212.5 149.7,212.5 144.4,212.5 139.1,212.5 133.7,212.5 128.4,212.5 123.1,212.5 117.8,212.5 112.5,212.5 107.2,212.5 101.9,212.5 96.6,212.5 91.3,212.5 86.0,212.5 80.0,212.4 75.0,212.0 71.5,211.3 68.5,210.4 66.6,209.6 66.0,208.9 66.6,208.0 68.5,207.0 71.5,206.2 75.0,205.7 80.0,205.3Z" fill="none" stroke="#04200c" stroke-width="1.5"/>
<path d="M66.0,221.2 70.0,221.2 74.0,221.2 78.0,221.2 82.0,221.2 86.0,221.2 90.0,221.2 94.0,221.2 98.0,221.2 102.0,221.2 106.0,221.2 110.0,221.2 114.0,221.2 118.0,221.2 122.0,221.2 126.0,221.2 130.0,221.2 134.0,221.2 138.0,221.2 142.0,221.2 146.0,221.2 150.0,221.2 154.0,221.2 158.0,221.3 162.0,221.3 166.0,221.4 170.0,221.4 174.0,221.4 178.0,221.5 182.0,221.5 186.0,221.6 190.0,221.6 194.0,221.7 198.0,221.7 202.0,221.8 206.0,221.8 210.0,221.9 214.0,222.0 218.0,222.0 222.0,222.1 226.0,222.1 230.0,222.2 234.0,222.2 238.0,222.2 242.0,222.2 246.0,222.2 250.0,222.2 254.0,222.3 258.0,222.3 262.0,222.3 266.0,222.3 270.0,222.3 274.0,222.3 278.0,222.2 282.0,222.2 286.0,222.1 290.0,222.1 294.0,222.0 298.0,222.0 302.0,221.9 306.0,221.9 310.0,221.9 314.0,221.8 318.0,221.8 322.0,221.7 326.0,221.6 330.0,221.6 334.0,221.5 338.0,221.4 342.0,221.4 346.0,221.3 350.0,221.2 354.0,221.2 358.0,221.1 362.0,221.0 366.0,220.9 370.0,220.7 374.0,220.6 378.0,220.4 382.0,220.3 388.0,219.4 393.0,218.0 399.0,216.6 404.6,215.6 405.6,216.2 405.0,217.4 403.0,218.4 399.0,220.8 395.0,223.0 391.0,225.2 387.0,227.2 383.0,228.9 380.0,230.2 378.0,230.2 376.1,229.9 374.1,229.5 372.2,229.1 370.2,228.6 368.2,228.2 366.3,228.0 364.3,228.0 362.3,228.2 360.4,228.5 358.4,229.0 356.5,229.3 354.5,229.6 352.5,229.7 350.6,229.6 348.6,229.4 346.6,229.0 344.7,228.5 342.7,228.1 340.8,227.7 338.8,227.5 336.8,227.5 334.9,227.7 332.9,227.9 330.9,228.3 329.0,228.6 327.0,228.8 325.1,229.0 323.1,228.9 321.1,228.7 319.2,228.4 317.2,228.1 315.2,227.7 313.3,227.4 311.3,227.2 309.4,227.1 307.4,227.1 305.4,227.2 303.5,227.4 301.5,227.7 299.5,227.9 297.6,228.1 295.6,228.2 293.7,228.3 291.7,228.2 289.7,228.0 287.8,227.7 285.8,227.4 283.8,227.1 281.9,226.9 279.9,226.7 278.0,226.6 276.0,226.7 274.0,226.8 272.1,227.0 270.1,227.3 268.2,227.5 266.2,227.8 264.2,227.9 262.3,228.0 260.3,227.9 258.3,227.8 256.4,227.6 254.4,227.4 252.5,227.2 250.5,227.0 248.5,226.8 246.6,226.8 244.6,226.8 242.6,226.9 240.7,227.0 238.7,227.3 236.8,227.5 234.8,227.8 232.8,228.0 230.9,228.2 228.9,228.3 226.9,228.4 225.0,228.3 223.0,228.2 221.1,227.9 219.1,227.7 217.1,227.5 215.2,227.3 213.2,227.2 211.2,227.3 209.3,227.5 207.3,227.8 205.4,228.1 203.4,228.5 201.4,228.8 199.5,229.1 197.5,229.3 195.5,229.3 193.6,229.2 191.6,229.0 189.7,228.7 187.7,228.4 185.7,228.1 183.8,227.9 181.8,227.8 179.8,227.8 177.9,228.0 175.9,228.3 174.0,228.6 172.0,229.0 170.0,229.4 168.1,229.8 166.1,230.0 164.2,230.1 162.2,230.0 160.2,229.8 158.3,229.4 156.3,229.0 154.3,228.6 152.4,228.3 150.4,228.2 148.5,228.2 146.5,228.4 144.5,228.8 142.6,229.3 140.6,229.7 138.6,230.1 136.7,230.4 134.7,230.5 132.8,230.4 130.8,230.1 128.8,229.7 126.9,229.2 124.9,228.7 122.9,228.4 121.0,228.1 119.0,228.1 117.1,228.2 115.1,228.5 113.1,228.9 111.2,229.5 109.2,229.9 107.2,230.3 105.3,230.6 103.3,230.6 101.4,230.5 99.4,230.2 97.4,229.8 95.5,229.3 93.5,228.8 91.5,228.4 89.6,228.1 87.6,227.9 85.7,227.9 83.7,228.1 81.7,228.4 79.8,228.9 77.8,229.4 75.8,229.9 73.9,230.3 71.9,230.6 70.0,230.7 68.0,230.7 64.5,230.0 61.5,228.6 59.9,226.4 60.6,224.0 62.8,222.2Z" fill="none" stroke="#04200c" stroke-width="1.5"/>
<pattern id="hx" patternUnits="userSpaceOnUse" x="63" y="147" width="16.55" height="16.7"><path d="M-1,-1.009 L17.55,17.709 M-1,17.709 L17.55,-1.009" stroke="#000" stroke-opacity="0.56" stroke-width="1.25" fill="none"/></pattern>
<path d="M51.0,136.5 51.0,249.5 52.0,249.5 53.2,249.5 54.4,249.5 55.6,249.5 56.7,249.5 57.9,249.5 59.1,249.3 60.3,245.7 61.5,242.7 62.7,239.9 63.9,237.5 65.0,235.3 66.2,233.3 67.4,231.4 68.6,229.7 69.8,228.1 71.0,226.7 72.2,225.3 73.3,223.9 74.5,222.7 75.7,221.5 76.9,220.4 78.1,219.3 79.3,218.3 80.5,217.3 81.6,216.3 82.8,215.4 84.0,214.6 85.2,213.7 86.4,212.9 87.6,212.1 88.8,211.4 89.9,210.7 91.1,209.9 92.3,209.3 93.5,208.6 94.7,207.9 95.9,207.3 97.1,206.7 98.2,206.1 99.4,205.5 100.6,204.9 101.8,204.4 103.0,203.8 104.2,203.3 105.4,202.8 106.5,202.3 107.7,201.8 108.9,201.3 110.1,200.8 111.3,200.3 112.5,199.9 113.7,199.4 114.8,199.0 116.0,198.6 117.2,198.1 118.4,197.7 119.6,197.3 120.8,196.9 122.0,196.5 123.1,196.1 124.3,195.8 125.5,195.4 126.7,195.0 127.9,194.7 129.1,194.3 130.3,193.9 131.4,193.6 132.6,193.3 133.8,192.9 135.0,192.6 136.2,192.3 137.4,191.9 138.6,191.6 139.7,191.3 140.9,191.0 142.1,190.7 143.3,190.4 144.5,190.1 145.7,189.8 146.8,189.5 148.0,189.2 149.2,188.9 150.4,188.7 151.6,188.4 152.8,188.1 154.0,187.8 155.1,187.6 156.3,187.3 157.5,187.0 158.7,186.8 159.9,186.5 161.1,186.3 162.3,186.0 163.4,185.8 164.6,185.5 165.8,185.3 167.0,185.1 168.2,184.8 169.4,184.6 170.6,184.3 171.7,184.1 172.9,183.9 174.1,183.7 175.3,183.4 176.5,183.2 177.7,183.0 178.9,182.8 180.0,182.6 181.2,182.4 182.4,182.1 183.6,181.9 184.8,181.7 186.0,181.5 187.2,181.3 188.3,181.1 189.5,180.9 190.7,180.7 191.9,180.5 193.1,180.3 194.3,180.1 195.5,179.9 196.6,179.8 197.8,179.6 199.0,179.4 200.2,179.2 201.4,179.0 202.6,178.8 203.8,178.7 204.9,178.5 206.1,178.3 207.3,178.1 208.5,177.9 209.7,177.8 210.9,177.6 212.1,177.4 213.2,177.3 214.4,177.1 215.6,176.9 216.8,176.7 218.0,176.6 219.2,176.4 220.4,176.3 221.5,176.1 222.7,175.9 223.9,175.8 225.1,175.6 226.3,175.5 227.5,175.3 228.7,175.1 229.8,175.1 231.0,175.3 232.2,175.5 233.4,175.6 234.6,175.8 235.8,175.9 237.0,176.1 238.1,176.3 239.3,176.4 240.5,176.6 241.7,176.7 242.9,176.9 244.1,177.1 245.3,177.3 246.4,177.4 247.6,177.6 248.8,177.8 250.0,177.9 251.2,178.1 252.4,178.3 253.6,178.5 254.7,178.7 255.9,178.8 257.1,179.0 258.3,179.2 259.5,179.4 260.7,179.6 261.9,179.8 263.0,179.9 264.2,180.1 265.4,180.3 266.6,180.5 267.8,180.7 269.0,180.9 270.2,181.1 271.3,181.3 272.5,181.5 273.7,181.7 274.9,181.9 276.1,182.1 277.3,182.4 278.5,182.6 279.6,182.8 280.8,183.0 282.0,183.2 283.2,183.4 284.4,183.7 285.6,183.9 286.8,184.1 287.9,184.3 289.1,184.6 290.3,184.8 291.5,185.1 292.7,185.3 293.9,185.5 295.1,185.8 296.2,186.0 297.4,186.3 298.6,186.5 299.8,186.8 301.0,187.0 302.2,187.3 303.4,187.6 304.5,187.8 305.7,188.1 306.9,188.4 308.1,188.7 309.3,188.9 310.5,189.2 311.7,189.5 312.8,189.8 314.0,190.1 315.2,190.4 316.4,190.7 317.6,191.0 318.8,191.3 319.9,191.6 321.1,191.9 322.3,192.3 323.5,192.6 324.7,192.9 325.9,193.3 327.1,193.6 328.2,193.9 329.4,194.3 330.6,194.7 331.8,195.0 333.0,195.4 334.2,195.8 335.4,196.1 336.5,196.5 337.7,196.9 338.9,197.3 340.1,197.7 341.3,198.1 342.5,198.6 343.7,199.0 344.8,199.4 346.0,199.9 347.2,200.3 348.4,200.8 349.6,201.3 350.8,201.8 352.0,202.3 353.1,202.8 354.3,203.3 355.5,203.8 356.7,204.4 357.9,204.9 359.1,205.5 360.3,206.1 361.4,206.7 362.6,207.3 363.8,207.9 365.0,208.6 366.2,209.3 367.4,209.9 368.6,210.7 369.7,211.4 370.9,212.1 372.1,212.9 373.3,213.7 374.5,214.6 375.7,215.4 376.9,216.3 378.0,217.3 379.2,218.3 380.4,219.3 381.6,220.4 382.8,221.5 384.0,222.7 385.2,223.9 386.3,225.3 387.5,226.7 388.7,228.1 389.9,229.7 391.1,231.4 392.3,233.3 393.5,235.3 394.6,237.5 395.8,239.9 397.0,242.7 398.2,245.7 399.4,249.3 400.6,249.5 401.8,249.5 402.9,249.5 404.1,249.5 405.3,249.5 406.5,249.5 407.5,249.5 407.5,136.5Z" fill="#000" fill-opacity="0.3"/>
<path d="M51.0,136.5 51.0,249.5 52.0,249.5 53.2,249.5 54.4,249.5 55.6,249.5 56.7,249.5 57.9,249.5 59.1,249.3 60.3,245.7 61.5,242.7 62.7,239.9 63.9,237.5 65.0,235.3 66.2,233.3 67.4,231.4 68.6,229.7 69.8,228.1 71.0,226.7 72.2,225.3 73.3,223.9 74.5,222.7 75.7,221.5 76.9,220.4 78.1,219.3 79.3,218.3 80.5,217.3 81.6,216.3 82.8,215.4 84.0,214.6 85.2,213.7 86.4,212.9 87.6,212.1 88.8,211.4 89.9,210.7 91.1,209.9 92.3,209.3 93.5,208.6 94.7,207.9 95.9,207.3 97.1,206.7 98.2,206.1 99.4,205.5 100.6,204.9 101.8,204.4 103.0,203.8 104.2,203.3 105.4,202.8 106.5,202.3 107.7,201.8 108.9,201.3 110.1,200.8 111.3,200.3 112.5,199.9 113.7,199.4 114.8,199.0 116.0,198.6 117.2,198.1 118.4,197.7 119.6,197.3 120.8,196.9 122.0,196.5 123.1,196.1 124.3,195.8 125.5,195.4 126.7,195.0 127.9,194.7 129.1,194.3 130.3,193.9 131.4,193.6 132.6,193.3 133.8,192.9 135.0,192.6 136.2,192.3 137.4,191.9 138.6,191.6 139.7,191.3 140.9,191.0 142.1,190.7 143.3,190.4 144.5,190.1 145.7,189.8 146.8,189.5 148.0,189.2 149.2,188.9 150.4,188.7 151.6,188.4 152.8,188.1 154.0,187.8 155.1,187.6 156.3,187.3 157.5,187.0 158.7,186.8 159.9,186.5 161.1,186.3 162.3,186.0 163.4,185.8 164.6,185.5 165.8,185.3 167.0,185.1 168.2,184.8 169.4,184.6 170.6,184.3 171.7,184.1 172.9,183.9 174.1,183.7 175.3,183.4 176.5,183.2 177.7,183.0 178.9,182.8 180.0,182.6 181.2,182.4 182.4,182.1 183.6,181.9 184.8,181.7 186.0,181.5 187.2,181.3 188.3,181.1 189.5,180.9 190.7,180.7 191.9,180.5 193.1,180.3 194.3,180.1 195.5,179.9 196.6,179.8 197.8,179.6 199.0,179.4 200.2,179.2 201.4,179.0 202.6,178.8 203.8,178.7 204.9,178.5 206.1,178.3 207.3,178.1 208.5,177.9 209.7,177.8 210.9,177.6 212.1,177.4 213.2,177.3 214.4,177.1 215.6,176.9 216.8,176.7 218.0,176.6 219.2,176.4 220.4,176.3 221.5,176.1 222.7,175.9 223.9,175.8 225.1,175.6 226.3,175.5 227.5,175.3 228.7,175.1 229.8,175.1 231.0,175.3 232.2,175.5 233.4,175.6 234.6,175.8 235.8,175.9 237.0,176.1 238.1,176.3 239.3,176.4 240.5,176.6 241.7,176.7 242.9,176.9 244.1,177.1 245.3,177.3 246.4,177.4 247.6,177.6 248.8,177.8 250.0,177.9 251.2,178.1 252.4,178.3 253.6,178.5 254.7,178.7 255.9,178.8 257.1,179.0 258.3,179.2 259.5,179.4 260.7,179.6 261.9,179.8 263.0,179.9 264.2,180.1 265.4,180.3 266.6,180.5 267.8,180.7 269.0,180.9 270.2,181.1 271.3,181.3 272.5,181.5 273.7,181.7 274.9,181.9 276.1,182.1 277.3,182.4 278.5,182.6 279.6,182.8 280.8,183.0 282.0,183.2 283.2,183.4 284.4,183.7 285.6,183.9 286.8,184.1 287.9,184.3 289.1,184.6 290.3,184.8 291.5,185.1 292.7,185.3 293.9,185.5 295.1,185.8 296.2,186.0 297.4,186.3 298.6,186.5 299.8,186.8 301.0,187.0 302.2,187.3 303.4,187.6 304.5,187.8 305.7,188.1 306.9,188.4 308.1,188.7 309.3,188.9 310.5,189.2 311.7,189.5 312.8,189.8 314.0,190.1 315.2,190.4 316.4,190.7 317.6,191.0 318.8,191.3 319.9,191.6 321.1,191.9 322.3,192.3 323.5,192.6 324.7,192.9 325.9,193.3 327.1,193.6 328.2,193.9 329.4,194.3 330.6,194.7 331.8,195.0 333.0,195.4 334.2,195.8 335.4,196.1 336.5,196.5 337.7,196.9 338.9,197.3 340.1,197.7 341.3,198.1 342.5,198.6 343.7,199.0 344.8,199.4 346.0,199.9 347.2,200.3 348.4,200.8 349.6,201.3 350.8,201.8 352.0,202.3 353.1,202.8 354.3,203.3 355.5,203.8 356.7,204.4 357.9,204.9 359.1,205.5 360.3,206.1 361.4,206.7 362.6,207.3 363.8,207.9 365.0,208.6 366.2,209.3 367.4,209.9 368.6,210.7 369.7,211.4 370.9,212.1 372.1,212.9 373.3,213.7 374.5,214.6 375.7,215.4 376.9,216.3 378.0,217.3 379.2,218.3 380.4,219.3 381.6,220.4 382.8,221.5 384.0,222.7 385.2,223.9 386.3,225.3 387.5,226.7 388.7,228.1 389.9,229.7 391.1,231.4 392.3,233.3 393.5,235.3 394.6,237.5 395.8,239.9 397.0,242.7 398.2,245.7 399.4,249.3 400.6,249.5 401.8,249.5 402.9,249.5 404.1,249.5 405.3,249.5 406.5,249.5 407.5,249.5 407.5,136.5Z" fill="url(#hx)"/>
</g>
<rect x="52.0" y="137.5" width="354.5" height="111.0" fill="none" stroke="#222" stroke-width="0.7"/>
<line x1="52.00" y1="248.5" x2="52.00" y2="250.8" stroke="#333" stroke-width="0.6"/>
<text x="52.00" y="259.2" text-anchor="middle" style="font-family:&quot;DejaVu Sans&quot;,&quot;Liberation Sans&quot;,sans-serif;font-size:6.7px" fill="#111" stroke="#111" stroke-width="0.18">2010</text>
<line x1="111.50" y1="248.5" x2="111.50" y2="250.8" stroke="#333" stroke-width="0.6"/>
<text x="111.50" y="259.2" text-anchor="middle" style="font-family:&quot;DejaVu Sans&quot;,&quot;Liberation Sans&quot;,sans-serif;font-size:6.7px" fill="#111" stroke="#111" stroke-width="0.18">2012</text>
<line x1="171.00" y1="248.5" x2="171.00" y2="250.8" stroke="#333" stroke-width="0.6"/>
<text x="171.00" y="259.2" text-anchor="middle" style="font-family:&quot;DejaVu Sans&quot;,&quot;Liberation Sans&quot;,sans-serif;font-size:6.7px" fill="#111" stroke="#111" stroke-width="0.18">2014</text>
<line x1="230.50" y1="248.5" x2="230.50" y2="250.8" stroke="#333" stroke-width="0.6"/>
<text x="230.50" y="259.2" text-anchor="middle" style="font-family:&quot;DejaVu Sans&quot;,&quot;Liberation Sans&quot;,sans-serif;font-size:6.7px" fill="#111" stroke="#111" stroke-width="0.18">2016</text>
<line x1="290.00" y1="248.5" x2="290.00" y2="250.8" stroke="#333" stroke-width="0.6"/>
<text x="290.00" y="259.2" text-anchor="middle" style="font-family:&quot;DejaVu Sans&quot;,&quot;Liberation Sans&quot;,sans-serif;font-size:6.7px" fill="#111" stroke="#111" stroke-width="0.18">2018</text>
<line x1="349.50" y1="248.5" x2="349.50" y2="250.8" stroke="#333" stroke-width="0.6"/>
<text x="349.50" y="259.2" text-anchor="middle" style="font-family:&quot;DejaVu Sans&quot;,&quot;Liberation Sans&quot;,sans-serif;font-size:6.7px" fill="#111" stroke="#111" stroke-width="0.18">2020</text>
<line x1="49.7" y1="145.00" x2="52.0" y2="145.00" stroke="#333" stroke-width="0.6"/>
<text x="45.8" y="147.90" text-anchor="end" style="font-family:&quot;DejaVu Sans&quot;,&quot;Liberation Sans&quot;,sans-serif;font-size:6.7px" fill="#111" stroke="#111" stroke-width="0.18">16.0</text>
<line x1="49.7" y1="161.00" x2="52.0" y2="161.00" stroke="#333" stroke-width="0.6"/>
<text x="45.8" y="163.90" text-anchor="end" style="font-family:&quot;DejaVu Sans&quot;,&quot;Liberation Sans&quot;,sans-serif;font-size:6.7px" fill="#111" stroke="#111" stroke-width="0.18">8.0</text>
<line x1="49.7" y1="177.00" x2="52.0" y2="177.00" stroke="#333" stroke-width="0.6"/>
<text x="45.8" y="179.90" text-anchor="end" style="font-family:&quot;DejaVu Sans&quot;,&quot;Liberation Sans&quot;,sans-serif;font-size:6.7px" fill="#111" stroke="#111" stroke-width="0.18">4.0</text>
<line x1="49.7" y1="193.00" x2="52.0" y2="193.00" stroke="#333" stroke-width="0.6"/>
<text x="45.8" y="195.90" text-anchor="end" style="font-family:&quot;DejaVu Sans&quot;,&quot;Liberation Sans&quot;,sans-serif;font-size:6.7px" fill="#111" stroke="#111" stroke-width="0.18">2.0</text>
<line x1="49.7" y1="209.00" x2="52.0" y2="209.00" stroke="#333" stroke-width="0.6"/>
<text x="45.8" y="211.90" text-anchor="end" style="font-family:&quot;DejaVu Sans&quot;,&quot;Liberation Sans&quot;,sans-serif;font-size:6.7px" fill="#111" stroke="#111" stroke-width="0.18">1.0</text>
<line x1="49.7" y1="225.00" x2="52.0" y2="225.00" stroke="#333" stroke-width="0.6"/>
<text x="45.8" y="227.90" text-anchor="end" style="font-family:&quot;DejaVu Sans&quot;,&quot;Liberation Sans&quot;,sans-serif;font-size:6.7px" fill="#111" stroke="#111" stroke-width="0.18">0.5</text>
<line x1="49.7" y1="241.00" x2="52.0" y2="241.00" stroke="#333" stroke-width="0.6"/>
<text x="45.8" y="243.90" text-anchor="end" style="font-family:&quot;DejaVu Sans&quot;,&quot;Liberation Sans&quot;,sans-serif;font-size:6.7px" fill="#111" stroke="#111" stroke-width="0.18">0.25</text>
<text transform="translate(25.9,193.5) rotate(-90)" text-anchor="middle" style="font-family:&quot;DejaVu Sans&quot;,&quot;Liberation Sans&quot;,sans-serif;font-size:6.7px" fill="#111" stroke="#111" stroke-width="0.18">Period (years)</text>
<text x="140.9" y="133.2" style="font-family:&quot;Liberation Sans&quot;,sans-serif;font-size:10.6px" fill="#111">(b)</text>
<text x="155.3" y="133" style="font-family:&quot;DejaVu Sans&quot;,&quot;Liberation Sans&quot;,sans-serif;font-size:8.27px" fill="#111" stroke="#111" stroke-width="0.18">CH₄<tspan dx="2.3"> Wavelet Power Spectrum (Morlet)</tspan></text>
<clipPath id="cc"><rect x="417.8" y="138.0" width="109.59999999999997" height="110.5"/></clipPath>
<g clip-path="url(#cc)">
<path d="M528.0,202.5 487.4,205.5 435.2,207.5 424.8,209.5 429.4,211.5 487.4,212.5 435.2,213.5 425.3,215.0 424.2,217.0 426.5,219.0 452.6,220.5 429.4,221.5 424.8,223.0 435.2,224.5 499.0,225.5 441.0,226.5 423.6,228.0 421.3,230.0 423.6,232.2" fill="none" stroke="#dedede" stroke-width="0.8"/>
<path d="M423.6,233 L460.1,233" stroke="#bdbdbd" stroke-width="0.9"/>
<path d="M422.4,216.5 L519.3,216.2 M422.4,210.6 L470.0,210.6" stroke="#e2e2e2" stroke-width="0.7"/>
<path d="M525.1,200.5 499.0,203.5 475.8,207.5 458.4,211.5 446.8,215.5 438.1,220.0 431.7,226.0 427.1,233.0" fill="none" stroke="#c4c4c4" stroke-width="0.8" stroke-dasharray="3,1.6"/>
<path d="M424.5,249.0 425.1,245.0 427.1,240.0 431.1,235.0 438.7,230.0 449.7,225.0 466.5,220.0 481.6,216.5 499.0,213.6 516.4,210.6 529.2,208.8" fill="none" stroke="#1a1a1a" stroke-width="1.1" stroke-dasharray="3.6,1.8"/>
<path d="M419.2,138.0 418.5,141.0 419.2,146.0 418.5,150.0 419.8,156.0 419.8,160.0 418.7,166.0 418.5,175.0 418.5,185.0 418.7,194.0 420.4,197.4 424.8,199.4 435.2,200.8 464.2,202.2 499.0,203.2 533.8,203.9" fill="none" stroke="#0c0c0c" stroke-width="1.6" stroke-linejoin="round"/>
<path d="M533.8,213.2 499.0,214.2 464.2,215.8 443.9,217.2 435.2,217.9 446.8,218.9 475.8,220.9 504.8,222.8 524.5,223.9 504.8,225.4 475.8,227.2 452.6,229.0 437.5,230.3 431.7,231.9 425.9,234.2 421.3,237.3 418.5,240.2 418.1,249.0" fill="none" stroke="#0c0c0c" stroke-width="1.6" stroke-linejoin="round"/>
</g>
<rect x="417.8" y="138.0" width="109.59999999999997" height="110.5" fill="none" stroke="#333" stroke-width="0.7"/>
<line x1="417.80" y1="248.5" x2="417.80" y2="250.8" stroke="#333" stroke-width="0.6"/>
<text x="417.80" y="259.2" text-anchor="middle" style="font-family:&quot;DejaVu Sans&quot;,&quot;Liberation Sans&quot;,sans-serif;font-size:6.7px" fill="#111" stroke="#111" stroke-width="0.18">0</text>
<line x1="446.80" y1="248.5" x2="446.80" y2="250.8" stroke="#333" stroke-width="0.6"/>
<text x="446.80" y="259.2" text-anchor="middle" style="font-family:&quot;DejaVu Sans&quot;,&quot;Liberation Sans&quot;,sans-serif;font-size:6.7px" fill="#111" stroke="#111" stroke-width="0.18">5</text>
<line x1="475.80" y1="248.5" x2="475.80" y2="250.8" stroke="#333" stroke-width="0.6"/>
<text x="475.80" y="259.2" text-anchor="middle" style="font-family:&quot;DejaVu Sans&quot;,&quot;Liberation Sans&quot;,sans-serif;font-size:6.7px" fill="#111" stroke="#111" stroke-width="0.18">10</text>
<line x1="504.80" y1="248.5" x2="504.80" y2="250.8" stroke="#333" stroke-width="0.6"/>
<text x="504.80" y="259.2" text-anchor="middle" style="font-family:&quot;DejaVu Sans&quot;,&quot;Liberation Sans&quot;,sans-serif;font-size:6.7px" fill="#111" stroke="#111" stroke-width="0.18">15</text>
<line x1="415.8" y1="145.00" x2="417.8" y2="145.00" stroke="#333" stroke-width="0.6"/>
<line x1="415.8" y1="161.00" x2="417.8" y2="161.00" stroke="#333" stroke-width="0.6"/>
<line x1="415.8" y1="177.00" x2="417.8" y2="177.00" stroke="#333" stroke-width="0.6"/>
<line x1="415.8" y1="193.00" x2="417.8" y2="193.00" stroke="#333" stroke-width="0.6"/>
<line x1="415.8" y1="209.00" x2="417.8" y2="209.00" stroke="#333" stroke-width="0.6"/>
<line x1="415.8" y1="225.00" x2="417.8" y2="225.00" stroke="#333" stroke-width="0.6"/>
<line x1="415.8" y1="241.00" x2="417.8" y2="241.00" stroke="#333" stroke-width="0.6"/>
<text x="472" y="267.4" text-anchor="middle" style="font-family:&quot;DejaVu Sans&quot;,&quot;Liberation Sans&quot;,sans-serif;font-size:6.7px" fill="#111" stroke="#111" stroke-width="0.18">Power [(ppm)^2]</text>
<text x="410.9" y="133.2" style="font-family:&quot;Liberation Sans&quot;,sans-serif;font-size:10.6px" fill="#111">(c)</text>
<text x="424.5" y="133" style="font-family:&quot;DejaVu Sans&quot;,&quot;Liberation Sans&quot;,sans-serif;font-size:8.27px" fill="#111" stroke="#111" stroke-width="0.18">Global Wavelet Spectrum</text>
<rect x="49.6" y="282.9" width="406.2" height="85.70000000000005" fill="#fff" stroke="#c2c2c2" stroke-width="0.9"/>
<path d="M68.8,362.30 L437.3,293.76" stroke="#fbeefb" stroke-width="6.5"/>
<circle cx="68.0" cy="364.1" r="1.15" fill="#151515"/>
<circle cx="70.7" cy="363.2" r="1.15" fill="#151515"/>
<circle cx="73.4" cy="355.5" r="1.15" fill="#151515"/>
<circle cx="76.2" cy="362.6" r="1.15" fill="#151515"/>
<circle cx="78.9" cy="358.6" r="1.15" fill="#151515"/>
<circle cx="81.6" cy="356.8" r="1.15" fill="#151515"/>
<circle cx="84.3" cy="355.0" r="1.15" fill="#151515"/>
<circle cx="87.0" cy="354.5" r="1.15" fill="#151515"/>
<circle cx="89.7" cy="350.1" r="1.15" fill="#151515"/>
<circle cx="92.5" cy="352.3" r="1.15" fill="#151515"/>
<circle cx="95.2" cy="345.0" r="1.15" fill="#151515"/>
<circle cx="97.9" cy="352.3" r="1.15" fill="#151515"/>
<circle cx="100.6" cy="357.4" r="1.15" fill="#151515"/>
<circle cx="103.3" cy="353.2" r="1.15" fill="#151515"/>
<circle cx="106.0" cy="353.2" r="1.15" fill="#151515"/>
<circle cx="108.8" cy="353.2" r="1.15" fill="#151515"/>
<circle cx="111.5" cy="355.1" r="1.15" fill="#151515"/>
<circle cx="114.2" cy="347.2" r="1.15" fill="#151515"/>
<circle cx="116.9" cy="352.1" r="1.15" fill="#151515"/>
<circle cx="119.6" cy="346.5" r="1.15" fill="#151515"/>
<circle cx="122.3" cy="348.7" r="1.15" fill="#151515"/>
<circle cx="125.1" cy="342.8" r="1.15" fill="#151515"/>
<circle cx="127.8" cy="344.1" r="1.15" fill="#151515"/>
<circle cx="130.5" cy="346.5" r="1.15" fill="#151515"/>
<circle cx="133.2" cy="348.3" r="1.15" fill="#151515"/>
<circle cx="135.9" cy="351.7" r="1.15" fill="#151515"/>
<circle cx="138.6" cy="351.3" r="1.15" fill="#151515"/>
<circle cx="141.4" cy="350.0" r="1.15" fill="#151515"/>
<circle cx="144.1" cy="352.6" r="1.15" fill="#151515"/>
<circle cx="146.8" cy="347.7" r="1.15" fill="#151515"/>
<circle cx="149.5" cy="346.8" r="1.15" fill="#151515"/>
<circle cx="152.2" cy="345.4" r="1.15" fill="#151515"/>
<circle cx="154.9" cy="342.8" r="1.15" fill="#151515"/>
<circle cx="157.7" cy="345.0" r="1.15" fill="#151515"/>
<circle cx="160.4" cy="341.7" r="1.15" fill="#151515"/>
<circle cx="163.1" cy="349.6" r="1.15" fill="#151515"/>
<circle cx="165.8" cy="350.6" r="1.15" fill="#151515"/>
<circle cx="168.5" cy="350.6" r="1.15" fill="#151515"/>
<circle cx="171.2" cy="345.0" r="1.15" fill="#151515"/>
<circle cx="174.0" cy="345.0" r="1.15" fill="#151515"/>
<circle cx="176.7" cy="348.1" r="1.15" fill="#151515"/>
<circle cx="179.4" cy="342.6" r="1.15" fill="#151515"/>
<circle cx="182.1" cy="340.0" r="1.15" fill="#151515"/>
<circle cx="184.8" cy="338.3" r="1.15" fill="#151515"/>
<circle cx="187.5" cy="337.5" r="1.15" fill="#151515"/>
<circle cx="190.3" cy="337.8" r="1.15" fill="#151515"/>
<circle cx="193.0" cy="341.4" r="1.15" fill="#151515"/>
<circle cx="195.7" cy="342.3" r="1.15" fill="#151515"/>
<circle cx="198.4" cy="342.6" r="1.15" fill="#151515"/>
<circle cx="201.1" cy="344.5" r="1.15" fill="#151515"/>
<circle cx="203.8" cy="342.3" r="1.15" fill="#151515"/>
<circle cx="206.6" cy="340.5" r="1.15" fill="#151515"/>
<circle cx="209.3" cy="342.3" r="1.15" fill="#151515"/>
<circle cx="212.0" cy="334.6" r="1.15" fill="#151515"/>
<circle cx="214.7" cy="335.9" r="1.15" fill="#151515"/>
<circle cx="217.4" cy="332.8" r="1.15" fill="#151515"/>
<circle cx="220.2" cy="327.4" r="1.15" fill="#151515"/>
<circle cx="222.9" cy="331.8" r="1.15" fill="#151515"/>
<circle cx="225.6" cy="332.7" r="1.15" fill="#151515"/>
<circle cx="228.3" cy="332.9" r="1.15" fill="#151515"/>
<circle cx="231.0" cy="333.1" r="1.15" fill="#151515"/>
<circle cx="233.7" cy="334.6" r="1.15" fill="#151515"/>
<circle cx="236.5" cy="335.9" r="1.15" fill="#151515"/>
<circle cx="239.2" cy="334.6" r="1.15" fill="#151515"/>
<circle cx="241.9" cy="333.2" r="1.15" fill="#151515"/>
<circle cx="244.6" cy="332.3" r="1.15" fill="#151515"/>
<circle cx="247.3" cy="327.7" r="1.15" fill="#151515"/>
<circle cx="250.0" cy="326.4" r="1.15" fill="#151515"/>
<circle cx="252.8" cy="325.6" r="1.15" fill="#151515"/>
<circle cx="255.5" cy="325.4" r="1.15" fill="#151515"/>
<circle cx="258.2" cy="326.5" r="1.15" fill="#151515"/>
<circle cx="260.9" cy="330.5" r="1.15" fill="#151515"/>
<circle cx="263.6" cy="328.6" r="1.15" fill="#151515"/>
<circle cx="266.3" cy="328.1" r="1.15" fill="#151515"/>
<circle cx="269.1" cy="327.7" r="1.15" fill="#151515"/>
<circle cx="271.8" cy="326.8" r="1.15" fill="#151515"/>
<circle cx="274.5" cy="326.3" r="1.15" fill="#151515"/>
<circle cx="277.2" cy="322.9" r="1.15" fill="#151515"/>
<circle cx="279.9" cy="325.5" r="1.15" fill="#151515"/>
<circle cx="282.6" cy="320.5" r="1.15" fill="#151515"/>
<circle cx="285.4" cy="319.6" r="1.15" fill="#151515"/>
<circle cx="288.1" cy="319.4" r="1.15" fill="#151515"/>
<circle cx="290.8" cy="325.0" r="1.15" fill="#151515"/>
<circle cx="293.5" cy="323.7" r="1.15" fill="#151515"/>
<circle cx="296.2" cy="322.2" r="1.15" fill="#151515"/>
<circle cx="298.9" cy="321.1" r="1.15" fill="#151515"/>
<circle cx="301.7" cy="320.5" r="1.15" fill="#151515"/>
<circle cx="304.4" cy="322.3" r="1.15" fill="#151515"/>
<circle cx="307.1" cy="317.8" r="1.15" fill="#151515"/>
<circle cx="309.8" cy="318.6" r="1.15" fill="#151515"/>
<circle cx="312.5" cy="318.3" r="1.15" fill="#151515"/>
<circle cx="315.2" cy="313.9" r="1.15" fill="#151515"/>
<circle cx="318.0" cy="313.3" r="1.15" fill="#151515"/>
<circle cx="320.7" cy="313.8" r="1.15" fill="#151515"/>
<circle cx="323.4" cy="316.5" r="1.15" fill="#151515"/>
<circle cx="326.1" cy="315.4" r="1.15" fill="#151515"/>
<circle cx="328.8" cy="315.9" r="1.15" fill="#151515"/>
<circle cx="331.5" cy="315.4" r="1.15" fill="#151515"/>
<circle cx="334.3" cy="314.2" r="1.15" fill="#151515"/>
<circle cx="337.0" cy="313.1" r="1.15" fill="#151515"/>
<circle cx="339.7" cy="311.7" r="1.15" fill="#151515"/>
<circle cx="342.4" cy="312.8" r="1.15" fill="#151515"/>
<circle cx="345.1" cy="308.7" r="1.15" fill="#151515"/>
<circle cx="347.9" cy="304.5" r="1.15" fill="#151515"/>
<circle cx="350.6" cy="307.0" r="1.15" fill="#151515"/>
<circle cx="353.3" cy="308.4" r="1.15" fill="#151515"/>
<circle cx="356.0" cy="309.1" r="1.15" fill="#151515"/>
<circle cx="358.7" cy="310.1" r="1.15" fill="#151515"/>
<circle cx="361.4" cy="311.4" r="1.15" fill="#151515"/>
<circle cx="364.2" cy="309.1" r="1.15" fill="#151515"/>
<circle cx="366.9" cy="307.5" r="1.15" fill="#151515"/>
<circle cx="369.6" cy="306.9" r="1.15" fill="#151515"/>
<circle cx="372.3" cy="306.0" r="1.15" fill="#151515"/>
<circle cx="375.0" cy="299.5" r="1.15" fill="#151515"/>
<circle cx="377.7" cy="301.4" r="1.15" fill="#151515"/>
<circle cx="380.5" cy="298.3" r="1.15" fill="#151515"/>
<circle cx="383.2" cy="300.5" r="1.15" fill="#151515"/>
<circle cx="385.9" cy="300.5" r="1.15" fill="#151515"/>
<circle cx="388.6" cy="302.5" r="1.15" fill="#151515"/>
<circle cx="391.3" cy="305.5" r="1.15" fill="#151515"/>
<circle cx="394.0" cy="305.9" r="1.15" fill="#151515"/>
<circle cx="396.8" cy="305.5" r="1.15" fill="#151515"/>
<circle cx="399.5" cy="303.7" r="1.15" fill="#151515"/>
<circle cx="402.2" cy="301.4" r="1.15" fill="#151515"/>
<circle cx="404.9" cy="297.7" r="1.15" fill="#151515"/>
<circle cx="407.6" cy="293.2" r="1.15" fill="#151515"/>
<circle cx="410.3" cy="289.2" r="1.15" fill="#151515"/>
<circle cx="413.1" cy="291.7" r="1.15" fill="#151515"/>
<circle cx="415.8" cy="289.2" r="1.15" fill="#151515"/>
<circle cx="418.5" cy="288.6" r="1.15" fill="#151515"/>
<circle cx="421.2" cy="289.9" r="1.15" fill="#151515"/>
<circle cx="423.9" cy="294.1" r="1.15" fill="#151515"/>
<circle cx="426.6" cy="292.8" r="1.15" fill="#151515"/>
<circle cx="429.4" cy="291.7" r="1.15" fill="#151515"/>
<circle cx="432.1" cy="287.4" r="1.15" fill="#151515"/>
<circle cx="434.8" cy="288.6" r="1.15" fill="#151515"/>
<circle cx="437.5" cy="286.8" r="1.15" fill="#151515"/>
<path d="M68.8,362.30 L437.3,293.76" stroke="#4a2ad8" stroke-width="1.5"/>
<path d="M68.2,365.0 69.4,364.7 70.7,364.3 71.9,363.8 73.1,363.6 74.4,363.3 75.6,362.9 76.9,362.5 78.1,362.0 79.3,361.5 80.6,361.0 81.8,360.5 83.0,359.9 84.3,359.3 85.5,358.7 86.7,358.0 88.0,357.3 89.2,356.5 90.5,355.7 91.7,355.0 92.9,354.5 94.2,354.2 95.4,354.3 96.6,354.7 97.9,355.5 99.1,356.3 100.3,357.1 101.6,357.6 102.8,357.9 104.0,357.8 105.3,357.6 106.5,357.2 107.8,356.7 109.0,356.3 110.2,355.7 111.5,355.2 112.7,354.6 113.9,354.0 115.2,353.3 116.4,352.6 117.6,351.8 118.9,351.0 120.1,350.2 121.4,349.4 122.6,348.9 123.8,348.8 125.1,348.9 126.3,349.4 127.5,350.1 128.8,350.9 130.0,351.6 131.2,352.1 132.5,352.3 133.7,352.3 135.0,352.1 136.2,351.7 137.4,351.3 138.7,350.9 139.9,350.4 141.1,349.9 142.4,349.4 143.6,348.8 144.8,348.2 146.1,347.6 147.3,346.9 148.5,346.2 149.8,345.5 151.0,344.7 152.3,344.0 153.5,343.3 154.7,342.9 156.0,342.8 157.2,343.1 158.4,343.6 159.7,344.3 160.9,345.0 162.1,345.7 163.4,346.1 164.6,346.3 165.9,346.3 167.1,346.0 168.3,345.7 169.6,345.2 170.8,344.8 172.0,344.4 173.3,343.9 174.5,343.4 175.7,342.8 177.0,342.3 178.2,341.7 179.5,341.1 180.7,340.4 181.9,339.8 183.2,339.1 184.4,338.4 185.6,337.9 186.9,337.5 188.1,337.3 189.3,337.5 190.6,337.8 191.8,338.3 193.0,338.9 194.3,339.4 195.5,339.8 196.8,339.9 198.0,339.9 199.2,339.7 200.5,339.4 201.7,339.0 202.9,338.6 204.2,338.2 205.4,337.8 206.6,337.4 207.9,336.9 209.1,336.4 210.4,335.9 211.6,335.4 212.8,334.8 214.1,334.2 215.3,333.6 216.5,333.0 217.8,332.4 219.0,331.9 220.2,331.5 221.5,331.4 222.7,331.6 224.0,331.9 225.2,332.4 226.4,332.9 227.7,333.3 228.9,333.6 230.1,333.7 231.4,333.7 232.6,333.4 233.8,333.1 235.1,332.8 236.3,332.4 237.5,332.0 238.8,331.6 240.0,331.1 241.3,330.7 242.5,330.2 243.7,329.6 245.0,329.1 246.2,328.5 247.4,327.9 248.7,327.3 249.9,326.7 251.1,326.1 252.4,325.6 253.6,325.3 254.9,325.3 256.1,325.5 257.3,325.9 258.6,326.4 259.8,326.9 261.0,327.4 262.3,327.6 263.5,327.6 264.7,327.5 266.0,327.2 267.2,326.8 268.5,326.5 269.7,326.1 270.9,325.6 272.2,325.2 273.4,324.7 274.6,324.2 275.9,323.7 277.1,323.1 278.3,322.5 279.6,321.9 280.8,321.3 282.0,320.6 283.3,320.0 284.5,319.6 285.8,319.4 287.0,319.4 288.2,319.7 289.5,320.1 290.7,320.6 291.9,321.2 293.2,321.5 294.4,321.7 295.6,321.7 296.9,321.5 298.1,321.2 299.4,320.8 300.6,320.4 301.8,320.0 303.1,319.6 304.3,319.2 305.5,318.7 306.8,318.2 308.0,317.7 309.2,317.1 310.5,316.5 311.7,315.9 313.0,315.2 314.2,314.6 315.4,314.0 316.7,313.6 317.9,313.4 319.1,313.5 320.4,313.8 321.6,314.2 322.8,314.8 324.1,315.3 325.3,315.6 326.5,315.8 327.8,315.7 329.0,315.5 330.3,315.2 331.5,314.8 332.7,314.5 334.0,314.1 335.2,313.6 336.4,313.2 337.7,312.7 338.9,312.2 340.1,311.6 341.4,311.0 342.6,310.4 343.9,309.7 345.1,309.1 346.3,308.4 347.6,307.8 348.8,307.3 350.0,307.1 351.3,307.3 352.5,307.6 353.7,308.2 355.0,308.9 356.2,309.5 357.5,309.9 358.7,310.1 359.9,310.0 361.2,309.8 362.4,309.5 363.6,309.1 364.9,308.7 366.1,308.3 367.3,307.8 368.6,307.3 369.8,306.8 371.0,306.2 372.3,305.6 373.5,304.9 374.8,304.2 376.0,303.5 377.2,302.7 378.5,301.9 379.7,301.3 380.9,300.8 382.2,300.7 383.4,300.8 384.6,301.2 385.9,301.7 387.1,302.4 388.4,303.1 389.6,303.6 390.8,304.0 392.1,304.1 393.3,304.1 394.5,303.9 395.8,303.5 397.0,303.1 398.2,302.7 399.5,302.3 400.7,301.9 402.0,301.4 403.2,300.9 404.4,300.4 405.7,299.8 406.9,299.3 408.1,298.7 409.4,298.0 410.6,297.3 411.8,296.6 413.1,295.9 414.3,295.2 415.5,294.6 416.8,294.1 418.0,293.9 419.3,293.9 420.5,294.3 421.7,294.9 423.0,295.6 424.2,296.3 425.4,296.9 426.7,297.3 427.9,297.5 429.1,297.4 430.4,297.2 431.6,296.8 432.9,296.4 434.1,296.0 435.3,295.5 436.6,295.1 437.8,294.7" fill="none" stroke="#8a5a1c" stroke-width="1.25"/>
<line x1="67.70" y1="368.6" x2="67.70" y2="370.6" stroke="#777" stroke-width="0.6"/>
<text x="67.70" y="380.3" text-anchor="middle" style="font-family:&quot;Liberation Sans&quot;,sans-serif;font-size:8.5px" fill="#111">2010</text>
<line x1="230.70" y1="368.6" x2="230.70" y2="370.6" stroke="#777" stroke-width="0.6"/>
<text x="230.70" y="380.3" text-anchor="middle" style="font-family:&quot;Liberation Sans&quot;,sans-serif;font-size:8.5px" fill="#111">2015</text>
<line x1="393.70" y1="368.6" x2="393.70" y2="370.6" stroke="#777" stroke-width="0.6"/>
<text x="393.70" y="380.3" text-anchor="middle" style="font-family:&quot;Liberation Sans&quot;,sans-serif;font-size:8.5px" fill="#111">2020</text>
<line x1="47.6" y1="284.60" x2="49.6" y2="284.60" stroke="#777" stroke-width="0.6"/>
<text x="42.2" y="287.50" text-anchor="end" style="font-family:&quot;Liberation Sans&quot;,sans-serif;font-size:8.0px" fill="#111">1.84</text>
<line x1="47.6" y1="300.60" x2="49.6" y2="300.60" stroke="#777" stroke-width="0.6"/>
<text x="42.2" y="303.50" text-anchor="end" style="font-family:&quot;Liberation Sans&quot;,sans-serif;font-size:8.0px" fill="#111">1.82</text>
<line x1="47.6" y1="316.60" x2="49.6" y2="316.60" stroke="#777" stroke-width="0.6"/>
<text x="42.2" y="319.50" text-anchor="end" style="font-family:&quot;Liberation Sans&quot;,sans-serif;font-size:8.0px" fill="#111">1.80</text>
<line x1="47.6" y1="332.60" x2="49.6" y2="332.60" stroke="#777" stroke-width="0.6"/>
<text x="42.2" y="335.50" text-anchor="end" style="font-family:&quot;Liberation Sans&quot;,sans-serif;font-size:8.0px" fill="#111">1.78</text>
<line x1="47.6" y1="348.60" x2="49.6" y2="348.60" stroke="#777" stroke-width="0.6"/>
<text x="42.2" y="351.50" text-anchor="end" style="font-family:&quot;Liberation Sans&quot;,sans-serif;font-size:8.0px" fill="#111">1.76</text>
<line x1="47.6" y1="364.60" x2="49.6" y2="364.60" stroke="#777" stroke-width="0.6"/>
<text x="42.2" y="367.50" text-anchor="end" style="font-family:&quot;Liberation Sans&quot;,sans-serif;font-size:8.0px" fill="#111">1.74</text>
<text transform="translate(16.6,321.5) rotate(-90)" text-anchor="middle" style="font-family:&quot;Liberation Sans&quot;,sans-serif;font-size:9.0px" fill="#111">XCH₄, ppm</text>
<text x="231" y="392.6" text-anchor="middle" style="font-family:&quot;Liberation Sans&quot;,sans-serif;font-size:8.8px" fill="#111">Date</text>
<text x="26.3" y="273.2" style="font-family:&quot;Liberation Sans&quot;,sans-serif;font-size:10.8px" fill="#111">(d)</text>
<path d="M468,286.8 L475.8,286.8" stroke="#8a5a1c" stroke-width="1.2"/>
<path d="M468,299.4 L475.8,299.4" stroke="#3a1ae0" stroke-width="1.4"/>
<circle cx="467.40" cy="311.3" r="1.1" fill="#111"/>
<circle cx="470.30" cy="311.3" r="1.1" fill="#111"/>
<circle cx="473.20" cy="311.3" r="1.1" fill="#111"/>
<circle cx="476.10" cy="311.3" r="1.1" fill="#111"/>
<text x="480.2" y="289.4" style="font-family:&quot;Liberation Sans&quot;,sans-serif;font-size:6.9px" fill="#111">Harmonic trend</text>
<text x="480.2" y="302.0" style="font-family:&quot;Liberation Sans&quot;,sans-serif;font-size:6.9px" fill="#111">Linear trend</text>
<text x="481.5" y="313.8" style="font-family:&quot;Liberation Sans&quot;,sans-serif;font-size:6.9px" fill="#111">GOSAT XCH₄ data</text>
</svg></body></html>
